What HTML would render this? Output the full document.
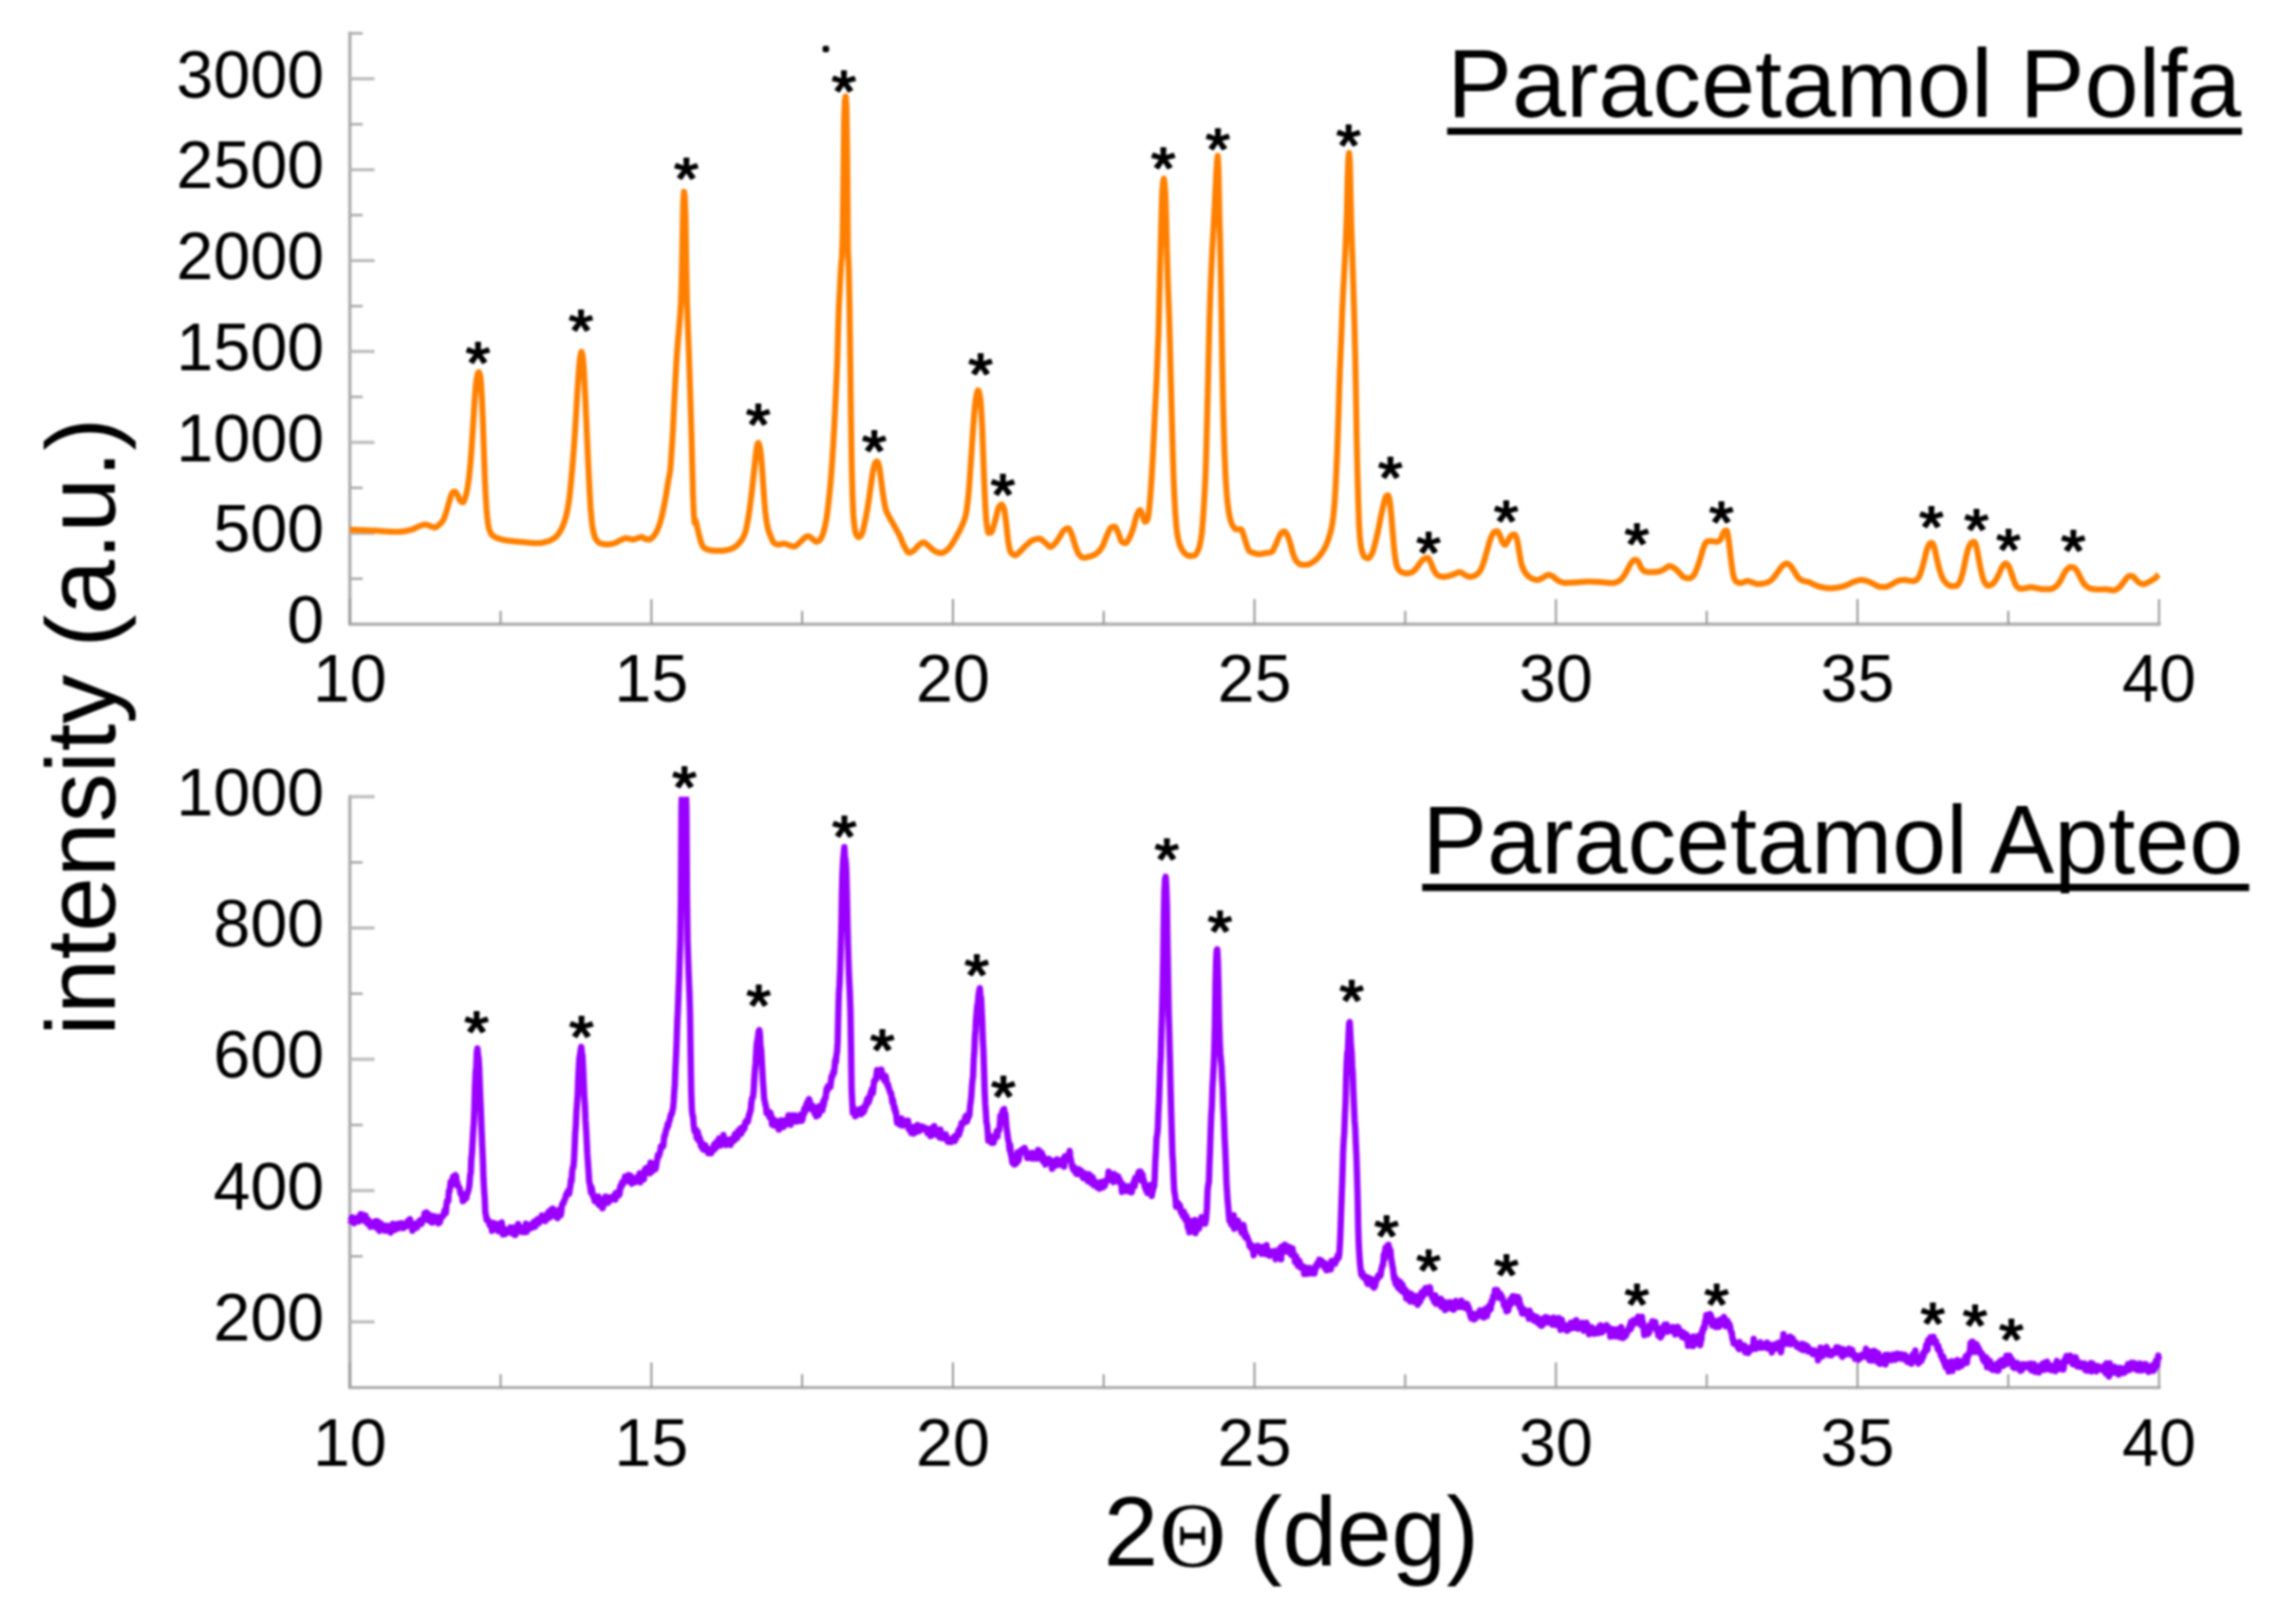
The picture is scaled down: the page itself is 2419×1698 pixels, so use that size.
<!DOCTYPE html>
<html lang="en"><head><meta charset="utf-8"><title>XRD: Paracetamol Polfa / Paracetamol Apteo</title>
<style>html,body{margin:0;padding:0;background:#fff}svg{display:block}</style></head>
<body>
<svg width="2419" height="1698" viewBox="0 0 2419 1698">
<rect width="2419" height="1698" fill="#fff"/>
<defs><filter id="soft" x="0" y="0" width="100%" height="100%" filterUnits="userSpaceOnUse" color-interpolation-filters="sRGB"><feGaussianBlur stdDeviation="0.85"/></filter></defs>
<g filter="url(#soft)">
<rect width="2419" height="1698" fill="#fff"/>
<g stroke="#adadad" stroke-width="3.4" fill="none" stroke-linecap="butt">
<path d="M368.6,33.4 V657.5 H2276.4"/>
<path d="M368.6,561.8 h26" stroke-width="3.2" stroke="#b8b8b8"/>
<path d="M368.6,466.0 h26" stroke-width="3.2" stroke="#b8b8b8"/>
<path d="M368.6,370.2 h26" stroke-width="3.2" stroke="#b8b8b8"/>
<path d="M368.6,274.5 h26" stroke-width="3.2" stroke="#b8b8b8"/>
<path d="M368.6,178.8 h26" stroke-width="3.2" stroke="#b8b8b8"/>
<path d="M368.6,83.0 h26" stroke-width="3.2" stroke="#b8b8b8"/>
<path d="M368.6,609.6 h13.5" stroke-width="2.6" stroke="#a8a8a8"/>
<path d="M368.6,513.9 h13.5" stroke-width="2.6" stroke="#a8a8a8"/>
<path d="M368.6,418.1 h13.5" stroke-width="2.6" stroke="#a8a8a8"/>
<path d="M368.6,322.4 h13.5" stroke-width="2.6" stroke="#a8a8a8"/>
<path d="M368.6,226.6 h13.5" stroke-width="2.6" stroke="#a8a8a8"/>
<path d="M368.6,130.9 h13.5" stroke-width="2.6" stroke="#a8a8a8"/>
<path d="M368.6,35.1 h13.5" stroke-width="2.6" stroke="#a8a8a8"/>
<path d="M368.6,657.5 v-26.5" stroke-width="2.1" stroke="#969696"/>
<path d="M527.4,657.5 v-14" stroke-width="2.1" stroke="#969696"/>
<path d="M686.3,657.5 v-26.5" stroke-width="2.1" stroke="#969696"/>
<path d="M845.1,657.5 v-14" stroke-width="2.1" stroke="#969696"/>
<path d="M1004.0,657.5 v-26.5" stroke-width="2.1" stroke="#969696"/>
<path d="M1162.8,657.5 v-14" stroke-width="2.1" stroke="#969696"/>
<path d="M1321.7,657.5 v-26.5" stroke-width="2.1" stroke="#969696"/>
<path d="M1480.5,657.5 v-14" stroke-width="2.1" stroke="#969696"/>
<path d="M1639.3,657.5 v-26.5" stroke-width="2.1" stroke="#969696"/>
<path d="M1798.2,657.5 v-14" stroke-width="2.1" stroke="#969696"/>
<path d="M1957.0,657.5 v-26.5" stroke-width="2.1" stroke="#969696"/>
<path d="M2115.9,657.5 v-14" stroke-width="2.1" stroke="#969696"/>
<path d="M2274.7,657.5 v-26.5" stroke-width="2.1" stroke="#969696"/>
</g>
<g stroke="#adadad" stroke-width="3.4" fill="none" stroke-linecap="butt">
<path d="M368.6,837.5 V1461.6 H2276.4"/>
<path d="M368.6,1392.4 h26" stroke-width="3.2" stroke="#b8b8b8"/>
<path d="M368.6,1254.1 h26" stroke-width="3.2" stroke="#b8b8b8"/>
<path d="M368.6,1115.8 h26" stroke-width="3.2" stroke="#b8b8b8"/>
<path d="M368.6,977.5 h26" stroke-width="3.2" stroke="#b8b8b8"/>
<path d="M368.6,839.2 h26" stroke-width="3.2" stroke="#b8b8b8"/>
<path d="M368.6,1323.3 h13.5" stroke-width="2.6" stroke="#a8a8a8"/>
<path d="M368.6,1185.0 h13.5" stroke-width="2.6" stroke="#a8a8a8"/>
<path d="M368.6,1046.7 h13.5" stroke-width="2.6" stroke="#a8a8a8"/>
<path d="M368.6,908.4 h13.5" stroke-width="2.6" stroke="#a8a8a8"/>
<path d="M368.6,1461.6 v-26.5" stroke-width="2.1" stroke="#969696"/>
<path d="M527.4,1461.6 v-14" stroke-width="2.1" stroke="#969696"/>
<path d="M686.3,1461.6 v-26.5" stroke-width="2.1" stroke="#969696"/>
<path d="M845.1,1461.6 v-14" stroke-width="2.1" stroke="#969696"/>
<path d="M1004.0,1461.6 v-26.5" stroke-width="2.1" stroke="#969696"/>
<path d="M1162.8,1461.6 v-14" stroke-width="2.1" stroke="#969696"/>
<path d="M1321.7,1461.6 v-26.5" stroke-width="2.1" stroke="#969696"/>
<path d="M1480.5,1461.6 v-14" stroke-width="2.1" stroke="#969696"/>
<path d="M1639.3,1461.6 v-26.5" stroke-width="2.1" stroke="#969696"/>
<path d="M1798.2,1461.6 v-14" stroke-width="2.1" stroke="#969696"/>
<path d="M1957.0,1461.6 v-26.5" stroke-width="2.1" stroke="#969696"/>
<path d="M2115.9,1461.6 v-14" stroke-width="2.1" stroke="#969696"/>
<path d="M2274.7,1461.6 v-26.5" stroke-width="2.1" stroke="#969696"/>
</g>
<path d="M368.6,558.0 369.4,558.0 370.2,558.1 371.0,558.1 371.8,558.1 372.6,558.1 373.4,558.2 374.2,558.2 375.0,558.2 375.8,558.2 376.6,558.3 377.4,558.3 378.2,558.3 379.0,558.4 379.8,558.4 380.6,558.4 381.4,558.4 382.2,558.5 383.0,558.5 383.8,558.5 384.6,558.6 385.4,558.6 386.2,558.6 387.0,558.7 387.8,558.7 388.6,558.7 389.4,558.8 390.2,558.8 391.0,558.8 391.8,558.9 392.6,558.9 393.4,558.9 394.2,559.0 395.0,559.0 395.8,559.0 396.6,559.1 397.4,559.1 398.2,559.2 399.0,559.2 399.8,559.3 400.6,559.3 401.4,559.4 402.2,559.5 403.0,559.5 403.8,559.6 404.6,559.6 405.4,559.7 406.2,559.7 407.0,559.8 407.8,559.8 408.6,559.9 409.4,559.9 410.2,559.9 411.0,560.0 411.8,560.0 412.6,560.1 413.4,560.1 414.2,560.1 415.0,560.1 415.8,560.2 416.6,560.2 417.4,560.2 418.2,560.2 419.0,560.2 419.8,560.2 420.6,560.2 421.4,560.1 422.2,560.0 423.0,560.0 423.8,559.9 424.6,559.8 425.4,559.6 426.2,559.5 427.0,559.4 427.8,559.2 428.6,559.1 429.4,558.9 430.2,558.7 431.0,558.5 431.8,558.3 432.6,558.2 433.4,558.0 434.2,557.8 435.0,557.5 435.8,557.2 436.6,556.8 437.4,556.4 438.2,556.0 439.0,555.6 439.8,555.2 440.6,554.8 441.4,554.4 442.2,554.1 443.0,553.8 443.8,553.5 444.6,553.3 445.4,553.0 446.2,552.8 447.0,552.7 447.8,552.6 448.6,552.6 449.4,552.7 450.2,553.0 451.0,553.3 451.8,553.6 452.6,553.9 453.4,554.2 454.2,554.5 455.0,554.8 455.8,555.1 456.6,555.4 457.4,555.6 458.2,555.6 459.0,555.4 459.8,555.0 460.6,554.4 461.4,553.8 462.2,553.1 463.0,552.5 463.8,551.8 464.6,551.0 465.4,550.1 466.2,549.0 467.0,547.7 467.8,546.0 468.6,543.9 469.4,541.6 470.2,539.1 471.0,536.6 471.8,533.7 472.6,530.6 473.4,527.8 474.2,525.2 475.0,522.6 475.8,520.4 476.6,519.2 477.4,518.5 478.2,518.0 479.0,517.7 479.8,518.1 480.6,519.1 481.4,520.5 482.2,521.9 483.0,523.6 483.8,525.6 484.6,527.2 485.4,528.1 486.2,528.6 487.0,528.9 487.8,529.1 488.6,528.4 489.4,526.5 490.2,524.0 491.0,521.4 491.8,517.9 492.6,513.6 493.4,508.6 494.2,502.5 495.0,495.0 495.8,486.5 496.6,476.4 497.4,464.3 498.2,451.9 499.0,439.1 499.8,425.8 500.6,414.6 501.4,405.7 502.2,398.6 503.0,394.9 503.8,392.5 504.6,392.0 505.4,394.0 506.2,397.7 507.0,407.0 507.8,421.1 508.6,439.6 509.4,462.4 510.2,485.3 511.0,508.1 511.8,524.3 512.6,536.5 513.4,545.1 514.2,551.7 515.0,556.1 515.8,558.7 516.6,560.7 517.4,562.2 518.2,563.2 519.0,564.0 519.8,564.7 520.6,565.2 521.4,565.7 522.2,566.1 523.0,566.4 523.8,566.7 524.6,567.0 525.4,567.3 526.2,567.6 527.0,567.8 527.8,568.0 528.6,568.2 529.4,568.4 530.2,568.6 531.0,568.8 531.8,568.9 532.6,569.1 533.4,569.2 534.2,569.3 535.0,569.5 535.8,569.6 536.6,569.7 537.4,569.8 538.2,569.9 539.0,570.0 539.8,570.0 540.6,570.1 541.4,570.2 542.2,570.3 543.0,570.3 543.8,570.4 544.6,570.5 545.4,570.5 546.2,570.6 547.0,570.7 547.8,570.7 548.6,570.8 549.4,570.9 550.2,570.9 551.0,571.0 551.8,571.1 552.6,571.2 553.4,571.2 554.2,571.3 555.0,571.4 555.8,571.5 556.6,571.6 557.4,571.6 558.2,571.7 559.0,571.8 559.8,571.9 560.6,571.9 561.4,572.0 562.2,572.0 563.0,572.1 563.8,572.1 564.6,572.1 565.4,572.2 566.2,572.2 567.0,572.2 567.8,572.2 568.6,572.1 569.4,572.0 570.2,571.9 571.0,571.8 571.8,571.6 572.6,571.4 573.4,571.2 574.2,571.0 575.0,570.8 575.8,570.6 576.6,570.4 577.4,570.1 578.2,569.9 579.0,569.6 579.8,569.2 580.6,568.8 581.4,568.4 582.2,567.9 583.0,567.4 583.8,566.9 584.6,566.3 585.4,565.6 586.2,564.9 587.0,564.1 587.8,563.1 588.6,562.0 589.4,560.8 590.2,559.5 591.0,558.2 591.8,556.7 592.6,554.9 593.4,553.0 594.2,550.9 595.0,548.5 595.8,545.9 596.6,542.8 597.4,539.2 598.2,535.1 599.0,530.4 599.8,525.1 600.6,518.3 601.4,510.1 602.2,501.2 603.0,492.1 603.8,482.3 604.6,471.8 605.4,460.6 606.2,448.8 607.0,435.6 607.8,421.5 608.6,408.5 609.4,396.5 610.2,385.3 611.0,377.9 611.8,372.9 612.6,370.5 613.4,372.6 614.2,377.7 615.0,386.6 615.8,401.4 616.6,417.3 617.4,435.6 618.2,453.8 619.0,471.9 619.8,489.6 620.6,505.9 621.4,521.7 622.2,535.0 623.0,544.4 623.8,552.1 624.6,557.4 625.4,561.1 626.2,564.1 627.0,566.3 627.8,567.8 628.6,569.0 629.4,570.0 630.2,570.9 631.0,571.6 631.8,572.0 632.6,572.3 633.4,572.5 634.2,572.7 635.0,572.9 635.8,573.1 636.6,573.2 637.4,573.3 638.2,573.4 639.0,573.5 639.8,573.5 640.6,573.5 641.4,573.4 642.2,573.3 643.0,573.2 643.8,573.0 644.6,572.9 645.4,572.7 646.2,572.5 647.0,572.3 647.8,572.1 648.6,571.8 649.4,571.4 650.2,571.0 651.0,570.5 651.8,570.0 652.6,569.6 653.4,569.2 654.2,568.8 655.0,568.5 655.8,568.1 656.6,567.7 657.4,567.4 658.2,567.1 659.0,567.0 659.8,567.0 660.6,567.0 661.4,567.2 662.2,567.3 663.0,567.5 663.8,567.7 664.6,567.9 665.4,568.1 666.2,568.2 667.0,568.3 667.8,568.2 668.6,568.0 669.4,567.7 670.2,567.4 671.0,567.1 671.8,566.7 672.6,566.5 673.4,566.2 674.2,566.0 675.0,565.8 675.8,565.7 676.6,565.7 677.4,566.1 678.2,566.7 679.0,567.3 679.8,567.7 680.6,567.9 681.4,568.0 682.2,568.1 683.0,568.2 683.8,568.3 684.6,568.2 685.4,567.8 686.2,567.1 687.0,566.4 687.8,565.6 688.6,564.8 689.4,563.8 690.2,562.7 691.0,561.4 691.8,560.0 692.6,558.3 693.4,556.4 694.2,554.3 695.0,552.0 695.8,549.4 696.6,546.5 697.4,543.2 698.2,539.7 699.0,536.0 699.8,532.0 700.6,527.7 701.4,523.2 702.2,518.6 703.0,513.5 703.8,508.3 704.6,503.6 705.4,500.1 706.2,495.3 707.0,484.4 707.8,472.8 708.6,460.0 709.4,444.8 710.2,428.0 711.0,412.0 711.8,397.0 712.6,382.6 713.4,370.2 714.2,360.2 715.0,351.3 715.8,341.5 716.6,331.4 717.4,319.2 718.2,296.9 719.0,255.5 719.8,213.1 720.6,202.0 721.4,206.0 722.2,226.2 723.0,279.4 723.8,318.1 724.6,341.5 725.4,361.3 726.2,383.3 727.0,408.8 727.8,433.6 728.6,460.0 729.4,492.2 730.2,523.7 731.0,541.8 731.8,550.5 732.6,547.7 733.4,550.0 734.2,553.7 735.0,556.9 735.8,560.4 736.6,563.9 737.4,566.9 738.2,569.8 739.0,572.4 739.8,574.4 740.6,575.6 741.4,576.6 742.2,577.4 743.0,577.9 743.8,578.3 744.6,578.6 745.4,578.9 746.2,579.1 747.0,579.3 747.8,579.5 748.6,579.7 749.4,579.8 750.2,579.8 751.0,579.9 751.8,580.0 752.6,580.0 753.4,580.1 754.2,580.1 755.0,580.2 755.8,580.2 756.6,580.2 757.4,580.2 758.2,580.2 759.0,580.2 759.8,580.2 760.6,580.2 761.4,580.1 762.2,580.0 763.0,579.9 763.8,579.8 764.6,579.6 765.4,579.5 766.2,579.3 767.0,579.2 767.8,579.0 768.6,578.8 769.4,578.6 770.2,578.3 771.0,577.9 771.8,577.6 772.6,577.2 773.4,576.7 774.2,576.3 775.0,575.7 775.8,575.1 776.6,574.4 777.4,573.6 778.2,572.7 779.0,571.8 779.8,570.8 780.6,569.8 781.4,568.6 782.2,567.4 783.0,565.9 783.8,564.3 784.6,562.4 785.4,560.1 786.2,556.9 787.0,553.0 787.8,548.7 788.6,544.1 789.4,539.1 790.2,533.4 791.0,527.1 791.8,520.7 792.6,513.7 793.4,506.2 794.2,498.6 795.0,491.1 795.8,483.2 796.6,476.3 797.4,471.1 798.2,467.0 799.0,466.6 799.8,468.5 800.6,471.4 801.4,477.0 802.2,484.6 803.0,494.3 803.8,506.4 804.6,517.7 805.4,528.4 806.2,538.0 807.0,544.8 807.8,550.2 808.6,554.6 809.4,557.9 810.2,560.4 811.0,562.6 811.8,564.4 812.6,566.3 813.4,568.2 814.2,570.1 815.0,571.4 815.8,572.1 816.6,572.6 817.4,573.1 818.2,573.5 819.0,573.7 819.8,573.7 820.6,573.6 821.4,573.5 822.2,573.3 823.0,573.1 823.8,572.9 824.6,572.7 825.4,572.6 826.2,572.6 827.0,572.7 827.8,572.9 828.6,573.2 829.4,573.6 830.2,573.9 831.0,574.2 831.8,574.4 832.6,574.7 833.4,575.0 834.2,575.2 835.0,575.4 835.8,575.6 836.6,575.7 837.4,575.6 838.2,575.3 839.0,574.7 839.8,574.0 840.6,573.2 841.4,572.4 842.2,571.6 843.0,571.0 843.8,570.3 844.6,569.5 845.4,568.7 846.2,567.9 847.0,567.1 847.8,566.4 848.6,565.8 849.4,565.3 850.2,565.0 851.0,564.8 851.8,564.8 852.6,565.1 853.4,565.6 854.2,566.2 855.0,566.9 855.8,567.5 856.6,568.1 857.4,568.9 858.2,569.7 859.0,570.3 859.8,570.6 860.6,570.6 861.4,570.3 862.2,569.9 863.0,569.3 863.8,568.6 864.6,567.7 865.4,566.3 866.2,564.6 867.0,562.5 867.8,560.1 868.6,557.1 869.4,553.5 870.2,549.4 871.0,544.7 871.8,538.9 872.6,532.3 873.4,525.3 874.2,517.5 875.0,508.9 875.8,499.4 876.6,488.6 877.4,476.3 878.2,462.9 879.0,448.3 879.8,432.2 880.6,415.1 881.4,397.7 882.2,377.8 883.0,348.2 883.8,323.4 884.6,308.0 885.4,292.3 886.2,279.3 887.0,270.7 887.8,249.4 888.6,193.1 889.4,125.1 890.2,105.5 891.0,101.5 891.8,112.4 892.6,162.0 893.4,264.0 894.2,282.0 895.0,321.5 895.8,379.7 896.6,443.2 897.4,493.1 898.2,523.1 899.0,541.5 899.8,551.2 900.6,557.4 901.4,561.3 902.2,563.1 903.0,564.5 903.8,565.5 904.6,565.8 905.4,565.6 906.2,565.0 907.0,564.0 907.8,562.8 908.6,561.1 909.4,558.2 910.2,554.6 911.0,550.9 911.8,547.2 912.6,543.2 913.4,538.8 914.2,534.2 915.0,529.2 915.8,523.7 916.6,517.9 917.4,512.3 918.2,506.5 919.0,500.8 919.8,496.1 920.6,492.5 921.4,489.4 922.2,487.4 923.0,486.5 923.8,486.0 924.6,486.4 925.4,488.3 926.2,491.0 927.0,495.4 927.8,501.6 928.6,507.7 929.4,513.8 930.2,519.8 931.0,524.9 931.8,529.6 932.6,533.9 933.4,537.2 934.2,539.4 935.0,541.1 935.8,542.6 936.6,543.9 937.4,545.4 938.2,546.9 939.0,548.4 939.8,549.8 940.6,551.2 941.4,552.6 942.2,554.0 943.0,555.5 943.8,556.8 944.6,558.2 945.4,559.6 946.2,561.1 947.0,562.5 947.8,564.1 948.6,565.9 949.4,567.8 950.2,569.8 951.0,571.8 951.8,573.7 952.6,575.3 953.4,576.7 954.2,578.2 955.0,579.6 955.8,580.8 956.6,581.7 957.4,582.2 958.2,582.1 959.0,581.9 959.8,581.6 960.6,581.2 961.4,580.7 962.2,580.3 963.0,579.7 963.8,578.9 964.6,578.0 965.4,577.0 966.2,576.1 967.0,575.3 967.8,574.7 968.6,573.9 969.4,573.2 970.2,572.5 971.0,571.9 971.8,571.5 972.6,571.3 973.4,571.4 974.2,571.7 975.0,572.2 975.8,572.8 976.6,573.5 977.4,574.3 978.2,574.9 979.0,575.6 979.8,576.3 980.6,577.0 981.4,577.8 982.2,578.5 983.0,579.2 983.8,579.8 984.6,580.3 985.4,580.7 986.2,581.1 987.0,581.5 987.8,581.8 988.6,582.1 989.4,582.3 990.2,582.5 991.0,582.6 991.8,582.6 992.6,582.4 993.4,582.2 994.2,581.8 995.0,581.3 995.8,580.8 996.6,580.3 997.4,579.7 998.2,579.1 999.0,578.3 999.8,577.4 1000.6,576.4 1001.4,575.3 1002.2,574.1 1003.0,572.9 1003.8,571.7 1004.6,570.4 1005.4,569.1 1006.2,567.8 1007.0,566.4 1007.8,564.9 1008.6,563.5 1009.4,562.0 1010.2,560.5 1011.0,559.0 1011.8,557.4 1012.6,555.8 1013.4,554.0 1014.2,552.2 1015.0,550.2 1015.8,548.1 1016.6,545.7 1017.4,542.7 1018.2,538.6 1019.0,533.0 1019.8,526.4 1020.6,518.7 1021.4,508.8 1022.2,497.3 1023.0,485.8 1023.8,473.6 1024.6,461.0 1025.4,449.4 1026.2,439.1 1027.0,429.5 1027.8,422.3 1028.6,417.6 1029.4,413.6 1030.2,411.3 1031.0,411.5 1031.8,414.2 1032.6,418.5 1033.4,425.9 1034.2,438.5 1035.0,455.2 1035.8,477.3 1036.6,498.9 1037.4,519.2 1038.2,535.0 1039.0,547.4 1039.8,554.1 1040.6,559.1 1041.4,561.3 1042.2,561.2 1043.0,561.1 1043.8,561.0 1044.6,560.6 1045.4,558.9 1046.2,556.5 1047.0,553.9 1047.8,551.1 1048.6,548.0 1049.4,544.9 1050.2,541.7 1051.0,538.3 1051.8,535.4 1052.6,533.8 1053.4,532.7 1054.2,531.9 1055.0,531.4 1055.8,531.8 1056.6,533.0 1057.4,534.8 1058.2,537.5 1059.0,542.6 1059.8,548.8 1060.6,555.7 1061.4,563.7 1062.2,570.0 1063.0,574.8 1063.8,578.8 1064.6,581.3 1065.4,582.3 1066.2,583.1 1067.0,583.8 1067.8,584.3 1068.6,584.6 1069.4,584.8 1070.2,584.7 1071.0,584.4 1071.8,583.8 1072.6,583.1 1073.4,582.3 1074.2,581.4 1075.0,580.6 1075.8,579.9 1076.6,579.1 1077.4,578.3 1078.2,577.4 1079.0,576.6 1079.8,575.7 1080.6,574.9 1081.4,574.2 1082.2,573.5 1083.0,572.8 1083.8,572.0 1084.6,571.3 1085.4,570.6 1086.2,570.0 1087.0,569.5 1087.8,569.1 1088.6,568.8 1089.4,568.5 1090.2,568.2 1091.0,568.0 1091.8,567.8 1092.6,567.6 1093.4,567.5 1094.2,567.4 1095.0,567.4 1095.8,567.6 1096.6,567.9 1097.4,568.4 1098.2,569.1 1099.0,569.8 1099.8,570.5 1100.6,571.2 1101.4,571.8 1102.2,572.5 1103.0,573.3 1103.8,574.1 1104.6,574.9 1105.4,575.6 1106.2,576.0 1107.0,576.1 1107.8,575.8 1108.6,575.3 1109.4,574.6 1110.2,573.8 1111.0,573.0 1111.8,572.1 1112.6,571.2 1113.4,570.1 1114.2,568.9 1115.0,567.6 1115.8,566.4 1116.6,565.1 1117.4,563.9 1118.2,562.5 1119.0,561.1 1119.8,559.9 1120.6,558.9 1121.4,558.3 1122.2,557.7 1123.0,557.2 1123.8,556.8 1124.6,556.6 1125.4,556.5 1126.2,557.0 1127.0,558.2 1127.8,559.8 1128.6,561.7 1129.4,563.5 1130.2,565.8 1131.0,568.6 1131.8,571.5 1132.6,574.1 1133.4,576.4 1134.2,578.6 1135.0,580.7 1135.8,582.5 1136.6,583.7 1137.4,584.6 1138.2,585.4 1139.0,586.2 1139.8,586.8 1140.6,587.2 1141.4,587.4 1142.2,587.4 1143.0,587.3 1143.8,587.2 1144.6,587.1 1145.4,586.9 1146.2,586.7 1147.0,586.5 1147.8,586.3 1148.6,586.1 1149.4,585.8 1150.2,585.6 1151.0,585.3 1151.8,584.9 1152.6,584.5 1153.4,584.1 1154.2,583.7 1155.0,583.1 1155.8,582.6 1156.6,581.9 1157.4,581.2 1158.2,580.3 1159.0,579.3 1159.8,578.2 1160.6,577.0 1161.4,575.8 1162.2,574.2 1163.0,572.3 1163.8,570.2 1164.6,568.0 1165.4,565.9 1166.2,564.0 1167.0,562.3 1167.8,560.5 1168.6,558.8 1169.4,557.2 1170.2,556.0 1171.0,555.4 1171.8,555.1 1172.6,554.9 1173.4,554.8 1174.2,554.7 1175.0,555.1 1175.8,556.3 1176.6,557.9 1177.4,559.6 1178.2,561.3 1179.0,563.5 1179.8,565.9 1180.6,568.3 1181.4,570.1 1182.2,570.8 1183.0,571.3 1183.8,571.7 1184.6,572.0 1185.4,572.1 1186.2,572.1 1187.0,571.4 1187.8,570.3 1188.6,569.0 1189.4,567.6 1190.2,566.1 1191.0,564.3 1191.8,562.4 1192.6,560.2 1193.4,557.9 1194.2,555.5 1195.0,552.5 1195.8,549.1 1196.6,546.0 1197.4,543.3 1198.2,541.5 1199.0,539.8 1199.8,538.3 1200.6,537.5 1201.4,537.5 1202.2,538.7 1203.0,540.7 1203.8,542.6 1204.6,545.3 1205.4,548.0 1206.2,549.5 1207.0,549.4 1207.8,548.9 1208.6,548.1 1209.4,546.1 1210.2,540.9 1211.0,533.4 1211.8,524.2 1212.6,514.0 1213.4,502.0 1214.2,487.5 1215.0,472.0 1215.8,456.5 1216.6,439.2 1217.4,423.5 1218.2,408.4 1219.0,389.9 1219.8,369.9 1220.6,350.0 1221.4,317.9 1222.2,283.8 1223.0,253.6 1223.8,223.0 1224.6,201.0 1225.4,191.3 1226.2,188.1 1227.0,193.2 1227.8,204.0 1228.6,231.2 1229.4,262.0 1230.2,291.6 1231.0,313.9 1231.8,334.4 1232.6,362.3 1233.4,395.3 1234.2,425.0 1235.0,455.2 1235.8,484.2 1236.6,507.7 1237.4,525.0 1238.2,539.3 1239.0,549.8 1239.8,558.1 1240.6,564.0 1241.4,567.9 1242.2,571.1 1243.0,573.7 1243.8,575.8 1244.6,577.5 1245.4,579.1 1246.2,580.4 1247.0,581.5 1247.8,582.4 1248.6,583.2 1249.4,583.8 1250.2,584.4 1251.0,584.9 1251.8,585.3 1252.6,585.5 1253.4,585.5 1254.2,585.5 1255.0,585.5 1255.8,585.4 1256.6,585.4 1257.4,585.3 1258.2,585.2 1259.0,584.8 1259.8,584.1 1260.6,582.9 1261.4,581.5 1262.2,579.9 1263.0,578.0 1263.8,575.3 1264.6,571.8 1265.4,567.3 1266.2,561.6 1267.0,552.7 1267.8,541.8 1268.6,529.7 1269.4,515.4 1270.2,497.2 1271.0,471.1 1271.8,440.3 1272.6,407.6 1273.4,373.4 1274.2,338.8 1275.0,313.9 1275.8,293.9 1276.6,276.3 1277.4,259.9 1278.2,245.3 1279.0,231.1 1279.8,216.0 1280.6,198.9 1281.4,183.2 1282.2,170.3 1283.0,164.2 1283.8,177.5 1284.6,220.0 1285.4,252.8 1286.2,291.1 1287.0,338.1 1287.8,387.3 1288.6,424.8 1289.4,454.5 1290.2,479.3 1291.0,497.6 1291.8,511.4 1292.6,522.1 1293.4,530.1 1294.2,536.6 1295.0,541.7 1295.8,545.4 1296.6,548.4 1297.4,550.8 1298.2,552.8 1299.0,554.2 1299.8,555.3 1300.6,556.2 1301.4,557.0 1302.2,557.5 1303.0,557.6 1303.8,557.6 1304.6,557.6 1305.4,557.6 1306.2,557.6 1307.0,557.6 1307.8,557.7 1308.6,558.9 1309.4,561.1 1310.2,563.6 1311.0,566.0 1311.8,568.8 1312.6,571.6 1313.4,574.0 1314.2,576.3 1315.0,578.4 1315.8,579.9 1316.6,580.7 1317.4,581.2 1318.2,581.6 1319.0,581.9 1319.8,582.2 1320.6,582.4 1321.4,582.6 1322.2,582.9 1323.0,583.1 1323.8,583.3 1324.6,583.5 1325.4,583.6 1326.2,583.7 1327.0,583.7 1327.8,583.6 1328.6,583.5 1329.4,583.4 1330.2,583.2 1331.0,583.0 1331.8,582.9 1332.6,582.7 1333.4,582.6 1334.2,582.5 1335.0,582.4 1335.8,582.3 1336.6,582.2 1337.4,582.0 1338.2,581.9 1339.0,581.7 1339.8,581.4 1340.6,580.7 1341.4,579.4 1342.2,577.8 1343.0,576.0 1343.8,574.4 1344.6,572.6 1345.4,570.6 1346.2,568.5 1347.0,566.7 1347.8,565.1 1348.6,563.5 1349.4,562.1 1350.2,561.1 1351.0,560.5 1351.8,560.1 1352.6,559.8 1353.4,559.8 1354.2,560.4 1355.0,561.5 1355.8,562.8 1356.6,564.3 1357.4,566.3 1358.2,568.6 1359.0,571.1 1359.8,573.8 1360.6,576.9 1361.4,580.2 1362.2,582.9 1363.0,585.1 1363.8,587.1 1364.6,588.8 1365.4,590.3 1366.2,591.4 1367.0,592.2 1367.8,593.0 1368.6,593.7 1369.4,594.2 1370.2,594.6 1371.0,594.8 1371.8,594.8 1372.6,594.8 1373.4,594.8 1374.2,594.8 1375.0,594.8 1375.8,594.8 1376.6,594.8 1377.4,594.8 1378.2,594.7 1379.0,594.4 1379.8,594.1 1380.6,593.7 1381.4,593.2 1382.2,592.7 1383.0,592.2 1383.8,591.6 1384.6,591.1 1385.4,590.5 1386.2,589.8 1387.0,589.0 1387.8,588.2 1388.6,587.4 1389.4,586.4 1390.2,585.5 1391.0,584.5 1391.8,583.5 1392.6,582.3 1393.4,581.1 1394.2,579.8 1395.0,578.4 1395.8,576.9 1396.6,575.3 1397.4,573.6 1398.2,571.7 1399.0,569.6 1399.8,567.3 1400.6,564.8 1401.4,562.1 1402.2,559.1 1403.0,555.5 1403.8,551.1 1404.6,545.1 1405.4,537.4 1406.2,528.0 1407.0,515.0 1407.8,499.2 1408.6,481.5 1409.4,460.9 1410.2,437.0 1411.0,409.5 1411.8,386.6 1412.6,368.4 1413.4,349.4 1414.2,326.9 1415.0,309.8 1415.8,295.4 1416.6,280.3 1417.4,264.6 1418.2,246.0 1419.0,223.3 1419.8,187.2 1420.6,167.5 1421.4,161.1 1422.2,170.6 1423.0,208.0 1423.8,240.8 1424.6,264.2 1425.4,288.5 1426.2,313.5 1427.0,340.5 1427.8,373.9 1428.6,417.0 1429.4,464.6 1430.2,499.5 1431.0,527.9 1431.8,552.0 1432.6,564.5 1433.4,572.6 1434.2,577.7 1435.0,580.8 1435.8,583.3 1436.6,585.2 1437.4,586.4 1438.2,586.9 1439.0,587.4 1439.8,587.8 1440.6,588.0 1441.4,588.1 1442.2,587.7 1443.0,587.0 1443.8,586.0 1444.6,584.7 1445.4,583.4 1446.2,581.5 1447.0,578.9 1447.8,576.0 1448.6,572.9 1449.4,569.9 1450.2,566.5 1451.0,563.0 1451.8,559.3 1452.6,555.6 1453.4,551.6 1454.2,547.4 1455.0,543.4 1455.8,539.6 1456.6,536.0 1457.4,532.6 1458.2,529.6 1459.0,526.6 1459.8,524.0 1460.6,522.6 1461.4,521.9 1462.2,521.6 1463.0,522.8 1463.8,525.4 1464.6,530.3 1465.4,538.2 1466.2,547.0 1467.0,557.3 1467.8,566.9 1468.6,575.9 1469.4,583.8 1470.2,589.2 1471.0,593.5 1471.8,596.7 1472.6,598.6 1473.4,599.8 1474.2,600.8 1475.0,601.5 1475.8,602.1 1476.6,602.6 1477.4,602.9 1478.2,603.2 1479.0,603.4 1479.8,603.6 1480.6,603.8 1481.4,603.9 1482.2,604.0 1483.0,603.9 1483.8,603.8 1484.6,603.7 1485.4,603.4 1486.2,603.2 1487.0,602.9 1487.8,602.6 1488.6,602.2 1489.4,601.5 1490.2,600.8 1491.0,599.9 1491.8,599.0 1492.6,598.0 1493.4,597.1 1494.2,596.0 1495.0,594.8 1495.8,593.5 1496.6,592.4 1497.4,591.4 1498.2,590.6 1499.0,589.8 1499.8,589.1 1500.6,588.5 1501.4,588.2 1502.2,588.0 1503.0,587.8 1503.8,587.6 1504.6,587.7 1505.4,588.7 1506.2,590.2 1507.0,591.9 1507.8,593.5 1508.6,595.6 1509.4,597.8 1510.2,599.8 1511.0,601.3 1511.8,602.6 1512.6,603.8 1513.4,604.8 1514.2,605.5 1515.0,606.0 1515.8,606.4 1516.6,606.8 1517.4,607.1 1518.2,607.3 1519.0,607.5 1519.8,607.6 1520.6,607.7 1521.4,607.6 1522.2,607.5 1523.0,607.4 1523.8,607.3 1524.6,607.1 1525.4,606.9 1526.2,606.7 1527.0,606.5 1527.8,606.3 1528.6,606.1 1529.4,605.8 1530.2,605.5 1531.0,605.2 1531.8,604.8 1532.6,604.5 1533.4,604.2 1534.2,603.9 1535.0,603.5 1535.8,603.1 1536.6,602.8 1537.4,602.7 1538.2,602.7 1539.0,602.9 1539.8,603.3 1540.6,603.8 1541.4,604.4 1542.2,604.9 1543.0,605.4 1543.8,605.8 1544.6,606.2 1545.4,606.6 1546.2,607.0 1547.0,607.3 1547.8,607.6 1548.6,607.7 1549.4,607.6 1550.2,607.5 1551.0,607.3 1551.8,607.0 1552.6,606.8 1553.4,606.4 1554.2,606.1 1555.0,605.7 1555.8,605.1 1556.6,604.5 1557.4,603.7 1558.2,602.9 1559.0,601.9 1559.8,600.7 1560.6,599.1 1561.4,597.1 1562.2,595.0 1563.0,592.7 1563.8,590.3 1564.6,587.6 1565.4,584.7 1566.2,581.7 1567.0,578.8 1567.8,576.1 1568.6,573.2 1569.4,570.4 1570.2,568.0 1571.0,566.0 1571.8,564.2 1572.6,562.6 1573.4,561.3 1574.2,560.5 1575.0,560.1 1575.8,559.8 1576.6,559.6 1577.4,559.5 1578.2,560.1 1579.0,561.5 1579.8,563.2 1580.6,564.9 1581.4,567.1 1582.2,569.5 1583.0,571.2 1583.8,572.3 1584.6,573.3 1585.4,573.9 1586.2,573.7 1587.0,572.6 1587.8,571.2 1588.6,569.7 1589.4,568.4 1590.2,566.9 1591.0,565.5 1591.8,564.4 1592.6,563.9 1593.4,563.5 1594.2,563.2 1595.0,563.0 1595.8,563.1 1596.6,564.0 1597.4,565.7 1598.2,567.7 1599.0,571.3 1599.8,576.3 1600.6,581.1 1601.4,585.8 1602.2,590.6 1603.0,594.2 1603.8,596.7 1604.6,598.8 1605.4,600.6 1606.2,602.1 1607.0,603.3 1607.8,604.3 1608.6,605.3 1609.4,606.1 1610.2,606.9 1611.0,607.5 1611.8,608.1 1612.6,608.6 1613.4,609.0 1614.2,609.4 1615.0,609.8 1615.8,610.1 1616.6,610.4 1617.4,610.6 1618.2,610.8 1619.0,610.9 1619.8,610.9 1620.6,610.8 1621.4,610.5 1622.2,610.2 1623.0,609.8 1623.8,609.4 1624.6,609.0 1625.4,608.6 1626.2,608.2 1627.0,607.7 1627.8,607.2 1628.6,606.6 1629.4,606.1 1630.2,605.7 1631.0,605.5 1631.8,605.5 1632.6,605.6 1633.4,605.9 1634.2,606.2 1635.0,606.6 1635.8,607.0 1636.6,607.5 1637.4,608.2 1638.2,608.9 1639.0,609.7 1639.8,610.4 1640.6,611.0 1641.4,611.5 1642.2,611.8 1643.0,612.2 1643.8,612.6 1644.6,613.0 1645.4,613.3 1646.2,613.5 1647.0,613.8 1647.8,613.9 1648.6,614.0 1649.4,614.0 1650.2,614.0 1651.0,613.9 1651.8,613.9 1652.6,613.9 1653.4,613.9 1654.2,613.8 1655.0,613.8 1655.8,613.7 1656.6,613.7 1657.4,613.7 1658.2,613.6 1659.0,613.6 1659.8,613.5 1660.6,613.5 1661.4,613.4 1662.2,613.4 1663.0,613.3 1663.8,613.2 1664.6,613.2 1665.4,613.1 1666.2,613.0 1667.0,613.0 1667.8,612.9 1668.6,612.8 1669.4,612.8 1670.2,612.7 1671.0,612.7 1671.8,612.7 1672.6,612.7 1673.4,612.7 1674.2,612.7 1675.0,612.7 1675.8,612.7 1676.6,612.7 1677.4,612.7 1678.2,612.8 1679.0,612.8 1679.8,612.8 1680.6,612.9 1681.4,612.9 1682.2,612.9 1683.0,613.0 1683.8,613.0 1684.6,613.0 1685.4,613.1 1686.2,613.1 1687.0,613.2 1687.8,613.2 1688.6,613.3 1689.4,613.4 1690.2,613.5 1691.0,613.6 1691.8,613.7 1692.6,613.7 1693.4,613.8 1694.2,613.9 1695.0,614.0 1695.8,614.1 1696.6,614.1 1697.4,614.2 1698.2,614.2 1699.0,614.2 1699.8,614.1 1700.6,614.0 1701.4,613.8 1702.2,613.5 1703.0,613.2 1703.8,612.9 1704.6,612.5 1705.4,612.1 1706.2,611.6 1707.0,611.0 1707.8,610.3 1708.6,609.4 1709.4,608.5 1710.2,607.5 1711.0,606.4 1711.8,605.2 1712.6,603.9 1713.4,602.4 1714.2,600.9 1715.0,599.4 1715.8,597.9 1716.6,596.4 1717.4,594.8 1718.2,593.4 1719.0,592.4 1719.8,591.5 1720.6,590.6 1721.4,589.9 1722.2,589.6 1723.0,589.6 1723.8,589.9 1724.6,590.3 1725.4,590.8 1726.2,591.8 1727.0,593.5 1727.8,595.5 1728.6,597.2 1729.4,598.5 1730.2,599.5 1731.0,600.5 1731.8,601.3 1732.6,601.8 1733.4,602.0 1734.2,602.2 1735.0,602.3 1735.8,602.5 1736.6,602.6 1737.4,602.6 1738.2,602.6 1739.0,602.6 1739.8,602.6 1740.6,602.6 1741.4,602.6 1742.2,602.5 1743.0,602.5 1743.8,602.5 1744.6,602.4 1745.4,602.3 1746.2,602.3 1747.0,602.2 1747.8,602.1 1748.6,601.8 1749.4,601.5 1750.2,601.2 1751.0,600.8 1751.8,600.4 1752.6,600.0 1753.4,599.6 1754.2,599.1 1755.0,598.5 1755.8,597.9 1756.6,597.3 1757.4,596.7 1758.2,596.4 1759.0,596.3 1759.8,596.4 1760.6,596.7 1761.4,597.0 1762.2,597.4 1763.0,597.8 1763.8,598.2 1764.6,598.8 1765.4,599.5 1766.2,600.3 1767.0,601.1 1767.8,601.9 1768.6,602.6 1769.4,603.4 1770.2,604.3 1771.0,605.2 1771.8,606.1 1772.6,606.9 1773.4,607.6 1774.2,608.1 1775.0,608.4 1775.8,608.6 1776.6,608.8 1777.4,608.9 1778.2,609.1 1779.0,609.1 1779.8,609.2 1780.6,609.1 1781.4,608.7 1782.2,608.2 1783.0,607.5 1783.8,606.6 1784.6,605.8 1785.4,604.5 1786.2,602.8 1787.0,600.9 1787.8,598.9 1788.6,596.8 1789.4,594.6 1790.2,592.1 1791.0,589.6 1791.8,587.0 1792.6,584.2 1793.4,581.3 1794.2,578.7 1795.0,576.5 1795.8,574.4 1796.6,572.5 1797.4,571.1 1798.2,570.6 1799.0,570.4 1799.8,570.2 1800.6,570.1 1801.4,570.0 1802.2,570.0 1803.0,570.0 1803.8,570.1 1804.6,570.2 1805.4,570.3 1806.2,570.4 1807.0,570.5 1807.8,570.6 1808.6,570.6 1809.4,570.6 1810.2,570.3 1811.0,569.8 1811.8,569.2 1812.6,568.5 1813.4,567.1 1814.2,564.9 1815.0,563.0 1815.8,561.2 1816.6,559.7 1817.4,559.1 1818.2,558.8 1819.0,558.7 1819.8,560.1 1820.6,564.5 1821.4,569.7 1822.2,576.6 1823.0,583.4 1823.8,590.1 1824.6,596.1 1825.4,601.7 1826.2,606.3 1827.0,608.8 1827.8,610.6 1828.6,611.9 1829.4,612.7 1830.2,613.1 1831.0,613.5 1831.8,613.8 1832.6,614.1 1833.4,614.2 1834.2,614.2 1835.0,614.0 1835.8,613.8 1836.6,613.5 1837.4,613.2 1838.2,612.8 1839.0,612.5 1839.8,612.3 1840.6,612.1 1841.4,612.0 1842.2,612.1 1843.0,612.3 1843.8,612.6 1844.6,612.9 1845.4,613.2 1846.2,613.5 1847.0,613.8 1847.8,614.1 1848.6,614.4 1849.4,614.7 1850.2,614.9 1851.0,615.1 1851.8,615.3 1852.6,615.3 1853.4,615.2 1854.2,615.2 1855.0,615.1 1855.8,615.0 1856.6,614.8 1857.4,614.7 1858.2,614.5 1859.0,614.4 1859.8,614.2 1860.6,614.0 1861.4,613.7 1862.2,613.4 1863.0,613.1 1863.8,612.7 1864.6,612.2 1865.4,611.7 1866.2,611.0 1867.0,610.2 1867.8,609.3 1868.6,608.4 1869.4,607.5 1870.2,606.5 1871.0,605.4 1871.8,604.3 1872.6,603.2 1873.4,602.1 1874.2,601.0 1875.0,599.8 1875.8,598.6 1876.6,597.6 1877.4,596.6 1878.2,595.9 1879.0,595.2 1879.8,594.6 1880.6,594.1 1881.4,593.7 1882.2,593.5 1883.0,593.6 1883.8,594.0 1884.6,594.5 1885.4,595.2 1886.2,595.8 1887.0,596.7 1887.8,597.8 1888.6,599.0 1889.4,600.3 1890.2,601.5 1891.0,602.7 1891.8,604.0 1892.6,605.4 1893.4,606.7 1894.2,607.9 1895.0,608.8 1895.8,609.5 1896.6,610.1 1897.4,610.7 1898.2,611.2 1899.0,611.6 1899.8,611.9 1900.6,612.1 1901.4,612.3 1902.2,612.5 1903.0,612.6 1903.8,612.7 1904.6,612.9 1905.4,613.0 1906.2,613.3 1907.0,613.6 1907.8,614.0 1908.6,614.5 1909.4,614.9 1910.2,615.3 1911.0,615.7 1911.8,616.0 1912.6,616.4 1913.4,616.7 1914.2,617.0 1915.0,617.3 1915.8,617.6 1916.6,617.9 1917.4,618.1 1918.2,618.2 1919.0,618.4 1919.8,618.6 1920.6,618.7 1921.4,618.9 1922.2,619.0 1923.0,619.2 1923.8,619.3 1924.6,619.4 1925.4,619.5 1926.2,619.5 1927.0,619.6 1927.8,619.6 1928.6,619.6 1929.4,619.6 1930.2,619.6 1931.0,619.5 1931.8,619.5 1932.6,619.4 1933.4,619.3 1934.2,619.2 1935.0,619.1 1935.8,619.0 1936.6,618.8 1937.4,618.7 1938.2,618.5 1939.0,618.4 1939.8,618.2 1940.6,618.1 1941.4,617.8 1942.2,617.6 1943.0,617.3 1943.8,617.0 1944.6,616.7 1945.4,616.4 1946.2,616.0 1947.0,615.7 1947.8,615.4 1948.6,615.0 1949.4,614.6 1950.2,614.2 1951.0,613.7 1951.8,613.3 1952.6,613.0 1953.4,612.7 1954.2,612.5 1955.0,612.2 1955.8,611.9 1956.6,611.7 1957.4,611.5 1958.2,611.3 1959.0,611.1 1959.8,611.0 1960.6,610.9 1961.4,610.9 1962.2,611.0 1963.0,611.1 1963.8,611.2 1964.6,611.4 1965.4,611.6 1966.2,611.8 1967.0,612.0 1967.8,612.3 1968.6,612.5 1969.4,612.9 1970.2,613.2 1971.0,613.6 1971.8,614.1 1972.6,614.5 1973.4,614.9 1974.2,615.3 1975.0,615.7 1975.8,616.1 1976.6,616.5 1977.4,617.0 1978.2,617.4 1979.0,617.7 1979.8,618.0 1980.6,618.1 1981.4,618.2 1982.2,618.2 1983.0,618.2 1983.8,618.3 1984.6,618.3 1985.4,618.3 1986.2,618.3 1987.0,618.3 1987.8,618.1 1988.6,617.8 1989.4,617.4 1990.2,617.1 1991.0,616.7 1991.8,616.3 1992.6,615.9 1993.4,615.4 1994.2,614.9 1995.0,614.3 1995.8,613.8 1996.6,613.3 1997.4,612.9 1998.2,612.6 1999.0,612.2 1999.8,611.8 2000.6,611.5 2001.4,611.4 2002.2,611.3 2003.0,611.2 2003.8,611.1 2004.6,611.0 2005.4,611.0 2006.2,610.9 2007.0,610.9 2007.8,611.0 2008.6,611.1 2009.4,611.3 2010.2,611.4 2011.0,611.6 2011.8,611.7 2012.6,611.8 2013.4,611.9 2014.2,611.9 2015.0,612.0 2015.8,612.0 2016.6,612.0 2017.4,611.9 2018.2,611.5 2019.0,610.9 2019.8,610.1 2020.6,609.2 2021.4,608.3 2022.2,606.7 2023.0,604.8 2023.8,602.6 2024.6,600.2 2025.4,597.5 2026.2,594.5 2027.0,591.3 2027.8,588.3 2028.6,584.9 2029.4,581.6 2030.2,578.8 2031.0,576.7 2031.8,574.7 2032.6,573.3 2033.4,572.5 2034.2,572.0 2035.0,571.7 2035.8,572.1 2036.6,573.4 2037.4,575.1 2038.2,577.7 2039.0,581.3 2039.8,585.1 2040.6,588.6 2041.4,592.1 2042.2,595.5 2043.0,598.5 2043.8,601.3 2044.6,603.8 2045.4,606.1 2046.2,607.9 2047.0,609.5 2047.8,610.9 2048.6,612.1 2049.4,613.1 2050.2,613.9 2051.0,614.7 2051.8,615.4 2052.6,616.0 2053.4,616.6 2054.2,617.0 2055.0,617.3 2055.8,617.5 2056.6,617.4 2057.4,617.4 2058.2,617.4 2059.0,617.3 2059.8,617.2 2060.6,617.1 2061.4,617.0 2062.2,616.5 2063.0,615.6 2063.8,614.4 2064.6,613.1 2065.4,611.4 2066.2,609.1 2067.0,606.4 2067.8,603.5 2068.6,600.2 2069.4,596.4 2070.2,592.3 2071.0,588.6 2071.8,585.1 2072.6,581.7 2073.4,578.8 2074.2,576.6 2075.0,574.7 2075.8,573.2 2076.6,572.1 2077.4,571.5 2078.2,571.1 2079.0,570.8 2079.8,570.6 2080.6,571.4 2081.4,573.3 2082.2,575.6 2083.0,579.1 2083.8,583.5 2084.6,587.9 2085.4,592.1 2086.2,596.3 2087.0,600.2 2087.8,603.6 2088.6,606.8 2089.4,609.7 2090.2,612.0 2091.0,613.5 2091.8,614.8 2092.6,615.8 2093.4,616.6 2094.2,617.0 2095.0,617.0 2095.8,616.8 2096.6,616.5 2097.4,616.2 2098.2,615.8 2099.0,615.3 2099.8,614.6 2100.6,613.7 2101.4,612.7 2102.2,611.6 2103.0,610.5 2103.8,609.1 2104.6,607.5 2105.4,605.8 2106.2,604.2 2107.0,602.5 2107.8,600.7 2108.6,598.8 2109.4,597.2 2110.2,596.0 2111.0,595.0 2111.8,594.2 2112.6,593.6 2113.4,593.5 2114.2,594.0 2115.0,594.8 2115.8,595.7 2116.6,597.1 2117.4,599.0 2118.2,601.2 2119.0,603.3 2119.8,605.8 2120.6,608.4 2121.4,610.7 2122.2,612.7 2123.0,614.6 2123.8,616.3 2124.6,617.6 2125.4,618.3 2126.2,619.0 2127.0,619.5 2127.8,619.9 2128.6,620.1 2129.4,620.1 2130.2,620.0 2131.0,620.0 2131.8,619.9 2132.6,619.8 2133.4,619.7 2134.2,619.6 2135.0,619.5 2135.8,619.3 2136.6,619.1 2137.4,618.9 2138.2,618.7 2139.0,618.6 2139.8,618.5 2140.6,618.6 2141.4,618.7 2142.2,618.8 2143.0,619.0 2143.8,619.1 2144.6,619.3 2145.4,619.5 2146.2,619.6 2147.0,619.8 2147.8,619.9 2148.6,620.1 2149.4,620.3 2150.2,620.4 2151.0,620.6 2151.8,620.7 2152.6,620.7 2153.4,620.7 2154.2,620.7 2155.0,620.7 2155.8,620.7 2156.6,620.7 2157.4,620.6 2158.2,620.6 2159.0,620.6 2159.8,620.5 2160.6,620.5 2161.4,620.3 2162.2,620.1 2163.0,619.7 2163.8,619.3 2164.6,618.7 2165.4,618.2 2166.2,617.6 2167.0,616.9 2167.8,616.0 2168.6,615.0 2169.4,613.9 2170.2,612.7 2171.0,611.3 2171.8,609.7 2172.6,608.0 2173.4,606.4 2174.2,604.9 2175.0,603.6 2175.8,602.3 2176.6,601.0 2177.4,600.0 2178.2,599.3 2179.0,598.5 2179.8,597.9 2180.6,597.5 2181.4,597.4 2182.2,597.5 2183.0,597.5 2183.8,597.6 2184.6,597.8 2185.4,598.0 2186.2,598.6 2187.0,599.6 2187.8,600.8 2188.6,602.0 2189.4,603.3 2190.2,604.9 2191.0,606.6 2191.8,608.2 2192.6,609.7 2193.4,611.2 2194.2,612.6 2195.0,614.0 2195.8,615.2 2196.6,616.2 2197.4,616.9 2198.2,617.6 2199.0,618.2 2199.8,618.7 2200.6,619.2 2201.4,619.6 2202.2,619.9 2203.0,620.1 2203.8,620.2 2204.6,620.4 2205.4,620.5 2206.2,620.6 2207.0,620.7 2207.8,620.8 2208.6,620.9 2209.4,620.9 2210.2,620.9 2211.0,620.9 2211.8,620.9 2212.6,620.9 2213.4,620.9 2214.2,620.8 2215.0,620.8 2215.8,620.8 2216.6,620.7 2217.4,620.7 2218.2,620.7 2219.0,620.8 2219.8,620.8 2220.6,620.9 2221.4,621.1 2222.2,621.2 2223.0,621.4 2223.8,621.5 2224.6,621.6 2225.4,621.7 2226.2,621.8 2227.0,621.8 2227.8,621.7 2228.6,621.4 2229.4,621.1 2230.2,620.6 2231.0,620.1 2231.8,619.5 2232.6,619.0 2233.4,618.2 2234.2,617.3 2235.0,616.3 2235.8,615.3 2236.6,614.2 2237.4,613.1 2238.2,612.0 2239.0,610.8 2239.8,609.8 2240.6,608.9 2241.4,608.1 2242.2,607.3 2243.0,606.8 2243.8,606.6 2244.6,606.6 2245.4,606.7 2246.2,606.9 2247.0,607.0 2247.8,607.6 2248.6,608.4 2249.4,609.4 2250.2,610.3 2251.0,611.2 2251.8,612.0 2252.6,612.9 2253.4,613.6 2254.2,614.0 2255.0,614.4 2255.8,614.7 2256.6,615.0 2257.4,615.2 2258.2,615.3 2259.0,615.2 2259.8,615.1 2260.6,614.8 2261.4,614.4 2262.2,614.0 2263.0,613.5 2263.8,613.1 2264.6,612.7 2265.4,612.3 2266.2,611.8 2267.0,611.3 2267.8,610.7 2268.6,610.2 2269.4,609.8 2270.2,609.3 2271.0,608.7 2271.8,608.0 2272.6,607.0 2273.4,605.8 2274.2,605.0" fill="none" stroke="#ff8000" stroke-width="6.3" stroke-linejoin="round" stroke-linecap="butt"/>
<clipPath id="cb"><rect x="364.6" y="839.2" width="1914.1" height="632.4"/></clipPath>
<path d="M368.6,1285.2 369.2,1286.0 369.9,1284.4 370.5,1282.8 371.2,1283.8 371.8,1282.4 372.4,1285.1 373.1,1288.5 373.7,1283.9 374.4,1283.7 375.0,1286.6 375.6,1286.4 376.3,1285.7 376.9,1282.8 377.6,1284.9 378.2,1286.5 378.8,1280.9 379.5,1283.0 380.1,1279.0 380.8,1280.6 381.4,1279.2 382.0,1283.6 382.7,1281.2 383.3,1285.7 384.0,1286.1 384.6,1285.8 385.2,1280.4 385.9,1286.2 386.5,1288.0 387.2,1288.9 387.8,1284.9 388.4,1287.9 389.1,1286.8 389.7,1287.4 390.4,1292.3 391.0,1287.5 391.6,1289.5 392.3,1291.8 392.9,1288.0 393.6,1289.1 394.2,1289.7 394.8,1289.7 395.5,1286.4 396.1,1290.0 396.8,1293.6 397.4,1286.3 398.0,1292.8 398.7,1291.2 399.3,1289.5 400.0,1296.6 400.6,1293.7 401.2,1288.7 401.9,1292.2 402.5,1293.6 403.2,1291.7 403.8,1294.0 404.4,1292.2 405.1,1294.2 405.7,1296.4 406.4,1291.1 407.0,1293.8 407.6,1292.5 408.3,1294.4 408.9,1291.5 409.6,1293.4 410.2,1294.7 410.8,1297.7 411.5,1298.3 412.1,1291.8 412.8,1292.9 413.4,1296.3 414.0,1289.0 414.7,1292.4 415.3,1292.7 416.0,1295.5 416.6,1293.4 417.2,1290.2 417.9,1289.6 418.5,1289.6 419.2,1294.1 419.8,1289.1 420.4,1289.6 421.1,1291.6 421.7,1290.7 422.4,1290.7 423.0,1288.5 423.6,1291.3 424.3,1289.9 424.9,1293.7 425.6,1292.0 426.2,1289.8 426.8,1291.3 427.5,1288.4 428.1,1291.9 428.8,1289.1 429.4,1290.7 430.0,1285.8 430.7,1290.2 431.3,1285.0 432.0,1284.2 432.6,1288.9 433.2,1287.6 433.9,1290.7 434.5,1296.5 435.2,1288.9 435.8,1289.8 436.4,1292.2 437.1,1293.1 437.7,1291.4 438.4,1291.2 439.0,1293.3 439.6,1292.5 440.3,1287.9 440.9,1289.8 441.6,1289.5 442.2,1286.0 442.8,1288.7 443.5,1285.0 444.1,1289.1 444.8,1286.3 445.4,1285.3 446.0,1282.9 446.7,1283.5 447.3,1278.1 448.0,1279.9 448.6,1283.6 449.2,1277.1 449.9,1285.0 450.5,1278.4 451.2,1285.2 451.8,1281.3 452.4,1285.7 453.1,1284.3 453.7,1280.1 454.4,1287.4 455.0,1287.8 455.6,1283.8 456.3,1283.2 456.9,1283.4 457.6,1281.3 458.2,1286.8 458.8,1282.7 459.5,1284.3 460.1,1282.7 460.8,1283.4 461.4,1281.9 462.0,1288.7 462.7,1285.0 463.3,1287.6 464.0,1284.7 464.6,1282.1 465.2,1282.3 465.9,1280.8 466.5,1281.3 467.2,1279.4 467.8,1278.8 468.4,1274.7 469.1,1274.1 469.7,1277.9 470.4,1269.0 471.0,1265.1 471.6,1265.8 472.3,1265.3 472.9,1254.6 473.6,1254.6 474.2,1250.5 474.8,1244.8 475.5,1248.5 476.1,1244.1 476.8,1242.4 477.4,1239.3 478.0,1241.8 478.7,1238.8 479.3,1239.6 480.0,1237.8 480.6,1239.3 481.2,1248.2 481.9,1245.4 482.5,1249.2 483.2,1250.1 483.8,1250.8 484.4,1252.3 485.1,1256.9 485.7,1256.2 486.4,1258.4 487.0,1260.7 487.6,1265.2 488.3,1264.7 488.9,1264.0 489.6,1261.0 490.2,1257.9 490.8,1262.7 491.5,1261.4 492.1,1256.8 492.8,1256.4 493.4,1254.4 494.0,1251.4 494.7,1247.1 495.3,1237.7 496.0,1235.9 496.6,1220.5 497.2,1215.6 497.9,1203.2 498.5,1192.5 499.2,1182.6 499.8,1168.3 500.4,1146.7 501.1,1130.1 501.7,1124.4 502.4,1108.2 503.0,1104.4 503.6,1110.8 504.3,1115.2 504.9,1125.7 505.6,1145.9 506.2,1160.8 506.8,1175.8 507.5,1193.3 508.1,1207.4 508.8,1222.1 509.4,1241.3 510.0,1252.2 510.7,1262.3 511.3,1277.0 512.0,1280.2 512.6,1284.8 513.2,1283.6 513.9,1285.8 514.5,1285.8 515.2,1286.7 515.8,1290.1 516.4,1288.0 517.1,1291.4 517.7,1291.7 518.4,1296.5 519.0,1288.0 519.6,1294.2 520.3,1291.9 520.9,1292.3 521.6,1288.7 522.2,1291.4 522.8,1294.7 523.5,1292.8 524.1,1293.5 524.8,1292.8 525.4,1296.9 526.0,1294.3 526.7,1289.0 527.3,1293.4 528.0,1290.5 528.6,1287.6 529.2,1295.1 529.9,1300.3 530.5,1297.2 531.2,1294.2 531.8,1294.7 532.4,1300.0 533.1,1297.2 533.7,1296.6 534.4,1295.9 535.0,1295.9 535.6,1297.6 536.3,1296.9 536.9,1296.0 537.6,1292.9 538.2,1297.1 538.8,1294.2 539.5,1299.1 540.1,1293.1 540.8,1296.2 541.4,1296.5 542.0,1293.1 542.7,1301.0 543.3,1300.2 544.0,1295.1 544.6,1298.3 545.2,1297.2 545.9,1289.4 546.5,1296.8 547.2,1295.9 547.8,1296.1 548.4,1292.8 549.1,1294.6 549.7,1294.5 550.4,1297.7 551.0,1295.1 551.6,1294.0 552.3,1297.9 552.9,1292.4 553.6,1292.8 554.2,1289.0 554.8,1297.7 555.5,1295.9 556.1,1295.5 556.8,1294.4 557.4,1292.5 558.0,1292.2 558.7,1290.3 559.3,1289.9 560.0,1290.0 560.6,1293.3 561.2,1290.4 561.9,1288.5 562.5,1287.0 563.2,1286.6 563.8,1292.2 564.4,1289.1 565.1,1287.7 565.7,1286.3 566.4,1284.1 567.0,1286.5 567.6,1288.6 568.3,1285.0 568.9,1285.1 569.6,1284.8 570.2,1285.2 570.8,1280.4 571.5,1283.6 572.1,1281.6 572.8,1285.7 573.4,1281.1 574.0,1284.2 574.7,1286.2 575.3,1280.9 576.0,1279.5 576.6,1280.9 577.2,1279.7 577.9,1276.4 578.5,1279.4 579.2,1282.8 579.8,1276.3 580.4,1276.1 581.1,1273.6 581.7,1277.1 582.4,1273.1 583.0,1273.6 583.6,1280.0 584.3,1274.7 584.9,1280.1 585.6,1281.6 586.2,1278.5 586.8,1279.5 587.5,1283.1 588.1,1277.5 588.8,1276.3 589.4,1274.1 590.0,1277.4 590.7,1280.0 591.3,1277.0 592.0,1270.0 592.6,1268.1 593.2,1267.0 593.9,1267.3 594.5,1264.2 595.2,1263.4 595.8,1261.8 596.4,1258.5 597.1,1257.5 597.7,1256.7 598.4,1254.7 599.0,1255.1 599.6,1257.5 600.3,1252.8 600.9,1249.5 601.6,1242.6 602.2,1244.4 602.8,1233.8 603.5,1229.7 604.1,1229.5 604.8,1220.8 605.4,1208.6 606.0,1193.7 606.7,1185.4 607.3,1171.2 608.0,1161.4 608.6,1153.6 609.2,1136.2 609.9,1122.7 610.5,1113.9 611.2,1110.5 611.8,1105.8 612.4,1102.7 613.1,1109.6 613.7,1112.3 614.4,1126.6 615.0,1140.2 615.6,1155.3 616.3,1164.5 616.9,1180.0 617.6,1191.0 618.2,1202.5 618.8,1215.5 619.5,1225.3 620.1,1234.0 620.8,1245.2 621.4,1247.0 622.0,1251.5 622.7,1256.2 623.3,1250.9 624.0,1255.0 624.6,1259.1 625.2,1261.1 625.9,1260.4 626.5,1265.2 627.2,1263.9 627.8,1260.7 628.4,1261.8 629.1,1266.6 629.7,1266.1 630.4,1260.4 631.0,1269.1 631.6,1267.5 632.3,1269.7 632.9,1265.3 633.6,1265.6 634.2,1263.4 634.8,1272.7 635.5,1265.5 636.1,1269.7 636.8,1263.6 637.4,1265.4 638.0,1260.4 638.7,1263.5 639.3,1266.9 640.0,1261.0 640.6,1266.9 641.2,1265.0 641.9,1261.4 642.5,1262.8 643.2,1262.9 643.8,1263.9 644.4,1262.5 645.1,1261.5 645.7,1262.5 646.4,1260.2 647.0,1259.1 647.6,1261.8 648.3,1263.6 648.9,1256.7 649.6,1260.0 650.2,1257.5 650.8,1255.9 651.5,1259.5 652.1,1254.5 652.8,1258.0 653.4,1250.2 654.0,1251.5 654.7,1248.2 655.3,1245.5 656.0,1247.8 656.6,1244.6 657.2,1245.5 657.9,1242.8 658.5,1239.4 659.2,1241.5 659.8,1241.8 660.4,1244.2 661.1,1239.4 661.7,1241.8 662.4,1237.7 663.0,1244.1 663.6,1240.0 664.3,1238.5 664.9,1243.4 665.6,1246.8 666.2,1240.3 666.8,1241.7 667.5,1242.7 668.1,1241.7 668.8,1245.5 669.4,1242.1 670.0,1241.8 670.7,1244.7 671.3,1240.6 672.0,1243.2 672.6,1239.0 673.2,1238.0 673.9,1236.0 674.5,1245.4 675.2,1239.4 675.8,1240.5 676.4,1239.3 677.1,1239.2 677.7,1238.2 678.4,1242.2 679.0,1233.7 679.6,1231.5 680.3,1232.1 680.9,1230.5 681.6,1235.4 682.2,1235.2 682.8,1230.3 683.5,1229.0 684.1,1231.5 684.8,1235.9 685.4,1224.7 686.0,1233.1 686.7,1228.7 687.3,1233.8 688.0,1227.9 688.6,1229.4 689.2,1225.7 689.9,1226.4 690.5,1231.7 691.2,1229.2 691.8,1224.6 692.4,1221.6 693.1,1216.9 693.7,1218.6 694.4,1217.2 695.0,1214.8 695.6,1212.6 696.3,1207.9 696.9,1208.6 697.6,1206.6 698.2,1207.9 698.8,1207.2 699.5,1199.8 700.1,1195.9 700.8,1195.6 701.4,1192.0 702.0,1189.4 702.7,1188.9 703.3,1184.1 704.0,1186.1 704.6,1182.1 705.2,1181.0 705.9,1178.2 706.5,1175.3 707.2,1173.3 707.8,1173.3 708.4,1170.0 709.1,1167.8 709.7,1160.8 710.4,1149.3 711.0,1143.2 711.6,1125.8 712.3,1112.4 712.9,1097.3 713.6,1075.5 714.2,1063.9 714.8,1047.7 715.5,1030.1 716.1,1010.1 716.8,989.4 717.4,948.2 718.0,850.3 718.7,830.8 719.3,825.4 720.0,818.3 720.6,821.1 721.2,822.0 721.9,825.1 722.5,831.5 723.2,852.8 723.8,946.7 724.4,991.8 725.1,1012.1 725.7,1029.9 726.4,1046.5 727.0,1067.6 727.6,1110.4 728.3,1150.7 728.9,1168.1 729.6,1175.0 730.2,1175.8 730.8,1184.9 731.5,1189.7 732.1,1192.2 732.8,1192.6 733.4,1190.1 734.0,1198.4 734.7,1197.2 735.3,1192.4 736.0,1201.2 736.6,1197.4 737.2,1198.9 737.9,1201.4 738.5,1207.1 739.2,1203.6 739.8,1205.9 740.4,1210.4 741.1,1210.8 741.7,1207.3 742.4,1207.9 743.0,1206.2 743.6,1208.5 744.3,1212.1 744.9,1212.6 745.6,1212.2 746.2,1214.7 746.8,1210.3 747.5,1212.2 748.1,1214.2 748.8,1213.7 749.4,1214.7 750.0,1212.6 750.7,1210.3 751.3,1211.6 752.0,1207.5 752.6,1205.2 753.2,1210.4 753.9,1208.1 754.5,1208.4 755.2,1202.6 755.8,1205.5 756.4,1204.3 757.1,1203.2 757.7,1199.2 758.4,1203.8 759.0,1206.7 759.6,1205.1 760.3,1202.2 760.9,1203.3 761.6,1205.0 762.2,1195.5 762.8,1202.0 763.5,1203.5 764.1,1203.7 764.8,1206.2 765.4,1204.8 766.0,1202.7 766.7,1202.7 767.3,1204.0 768.0,1200.5 768.6,1201.6 769.2,1203.7 769.9,1206.0 770.5,1200.0 771.2,1199.7 771.8,1199.7 772.4,1202.1 773.1,1198.0 773.7,1201.4 774.4,1194.6 775.0,1196.3 775.6,1195.9 776.3,1198.1 776.9,1198.4 777.6,1191.3 778.2,1192.4 778.8,1195.0 779.5,1191.8 780.1,1188.7 780.8,1194.4 781.4,1192.0 782.0,1190.9 782.7,1187.3 783.3,1190.1 784.0,1185.8 784.6,1188.2 785.2,1182.0 785.9,1181.2 786.5,1182.9 787.2,1179.4 787.8,1181.7 788.4,1179.1 789.1,1174.2 789.7,1174.5 790.4,1170.3 791.0,1169.8 791.6,1161.4 792.3,1157.3 792.9,1156.6 793.6,1153.7 794.2,1146.9 794.8,1134.9 795.5,1126.1 796.1,1119.5 796.8,1107.0 797.4,1098.8 798.0,1095.8 798.7,1092.1 799.3,1086.3 800.0,1085.1 800.6,1090.2 801.2,1102.2 801.9,1105.4 802.5,1116.5 803.2,1128.2 803.8,1139.1 804.4,1146.7 805.1,1157.9 805.7,1159.6 806.4,1164.2 807.0,1165.0 807.6,1172.5 808.3,1171.0 808.9,1170.3 809.6,1172.3 810.2,1173.6 810.8,1176.9 811.5,1171.8 812.1,1174.0 812.8,1176.4 813.4,1184.5 814.0,1181.0 814.7,1178.8 815.3,1181.5 816.0,1185.6 816.6,1180.3 817.2,1180.6 817.9,1185.5 818.5,1184.3 819.2,1185.5 819.8,1183.0 820.4,1189.8 821.1,1189.5 821.7,1186.7 822.4,1187.1 823.0,1180.1 823.6,1187.0 824.3,1184.8 824.9,1186.4 825.6,1186.9 826.2,1184.1 826.8,1180.2 827.5,1185.1 828.1,1181.7 828.8,1182.1 829.4,1180.6 830.0,1180.6 830.7,1174.9 831.3,1183.6 832.0,1180.7 832.6,1182.6 833.2,1184.7 833.9,1179.6 834.5,1174.8 835.2,1177.3 835.8,1176.6 836.4,1178.5 837.1,1180.2 837.7,1174.9 838.4,1181.1 839.0,1176.4 839.6,1181.3 840.3,1180.3 840.9,1179.9 841.6,1180.6 842.2,1179.0 842.8,1178.1 843.5,1174.2 844.1,1177.1 844.8,1180.5 845.4,1179.3 846.0,1176.1 846.7,1173.1 847.3,1168.0 848.0,1171.9 848.6,1166.3 849.2,1164.6 849.9,1162.4 850.5,1162.1 851.2,1159.8 851.8,1160.2 852.4,1157.7 853.1,1160.1 853.7,1167.9 854.4,1163.0 855.0,1163.9 855.6,1167.3 856.3,1169.0 856.9,1165.3 857.6,1168.9 858.2,1172.8 858.8,1172.0 859.5,1172.1 860.1,1175.9 860.8,1169.9 861.4,1171.6 862.0,1169.7 862.7,1174.5 863.3,1165.0 864.0,1167.7 864.6,1167.3 865.2,1169.5 865.9,1168.5 866.5,1169.6 867.2,1160.4 867.8,1164.6 868.4,1159.8 869.1,1156.5 869.7,1157.4 870.4,1151.4 871.0,1146.5 871.6,1148.9 872.3,1144.1 872.9,1144.4 873.6,1145.2 874.2,1143.3 874.8,1145.0 875.5,1138.8 876.1,1133.8 876.8,1134.1 877.4,1131.8 878.0,1128.7 878.7,1130.2 879.3,1124.0 880.0,1116.6 880.6,1118.9 881.2,1111.6 881.9,1107.9 882.5,1097.9 883.2,1067.4 883.8,1045.9 884.4,1038.0 885.1,1022.3 885.7,1001.2 886.4,976.3 887.0,940.9 887.6,920.0 888.3,906.6 888.9,899.9 889.6,892.4 890.2,902.6 890.8,905.8 891.5,914.0 892.1,935.8 892.8,969.7 893.4,995.3 894.0,1015.2 894.7,1033.5 895.3,1045.0 896.0,1065.6 896.6,1101.9 897.2,1147.0 897.9,1160.8 898.5,1172.1 899.2,1166.7 899.8,1170.0 900.4,1170.6 901.1,1175.8 901.7,1171.4 902.4,1173.2 903.0,1174.3 903.6,1171.8 904.3,1171.7 904.9,1172.9 905.6,1168.6 906.2,1170.1 906.8,1172.6 907.5,1173.6 908.1,1172.1 908.8,1167.1 909.4,1169.4 910.0,1171.5 910.7,1169.5 911.3,1166.5 912.0,1162.9 912.6,1165.3 913.2,1160.4 913.9,1157.2 914.5,1156.7 915.2,1161.2 915.8,1156.6 916.4,1157.6 917.1,1151.6 917.7,1153.5 918.4,1147.6 919.0,1146.7 919.6,1151.3 920.3,1144.4 920.9,1138.8 921.6,1137.7 922.2,1136.9 922.8,1137.4 923.5,1131.4 924.1,1127.0 924.8,1130.0 925.4,1130.2 926.0,1130.0 926.7,1132.8 927.3,1129.9 928.0,1131.2 928.6,1126.5 929.2,1132.0 929.9,1135.7 930.5,1132.9 931.2,1132.4 931.8,1133.4 932.4,1139.0 933.1,1133.5 933.7,1137.3 934.4,1140.5 935.0,1143.3 935.6,1142.3 936.3,1146.4 936.9,1147.1 937.6,1150.3 938.2,1151.7 938.8,1151.3 939.5,1156.4 940.1,1161.0 940.8,1158.4 941.4,1162.6 942.0,1167.5 942.7,1165.8 943.3,1171.7 944.0,1170.9 944.6,1178.6 945.2,1183.0 945.9,1183.3 946.5,1178.4 947.2,1181.7 947.8,1180.7 948.4,1181.1 949.1,1185.2 949.7,1178.0 950.4,1184.4 951.0,1181.7 951.6,1185.6 952.3,1182.5 952.9,1180.4 953.6,1183.1 954.2,1184.6 954.8,1183.3 955.5,1185.2 956.1,1183.5 956.8,1180.4 957.4,1189.5 958.0,1190.0 958.7,1189.6 959.3,1190.3 960.0,1193.4 960.6,1189.9 961.2,1189.4 961.9,1190.7 962.5,1194.0 963.2,1186.9 963.8,1193.2 964.4,1188.0 965.1,1186.4 965.7,1192.2 966.4,1188.4 967.0,1185.0 967.6,1187.3 968.3,1190.5 968.9,1191.1 969.6,1186.9 970.2,1189.1 970.8,1190.0 971.5,1186.6 972.1,1189.4 972.8,1188.6 973.4,1187.6 974.0,1187.9 974.7,1189.7 975.3,1189.9 976.0,1188.6 976.6,1189.3 977.2,1193.5 977.9,1191.4 978.5,1193.2 979.2,1194.1 979.8,1192.4 980.4,1196.7 981.1,1188.5 981.7,1192.6 982.4,1189.6 983.0,1195.3 983.6,1195.1 984.3,1186.0 984.9,1189.0 985.6,1193.8 986.2,1194.8 986.8,1195.3 987.5,1193.8 988.1,1195.7 988.8,1196.6 989.4,1195.1 990.0,1198.2 990.7,1189.9 991.3,1197.6 992.0,1193.4 992.6,1198.9 993.2,1196.1 993.9,1194.8 994.5,1198.6 995.2,1195.7 995.8,1196.2 996.4,1194.9 997.1,1199.3 997.7,1200.9 998.4,1202.5 999.0,1199.6 999.6,1202.8 1000.3,1200.2 1000.9,1199.9 1001.6,1201.7 1002.2,1203.0 1002.8,1199.3 1003.5,1199.5 1004.1,1199.6 1004.8,1200.1 1005.4,1197.2 1006.0,1201.9 1006.7,1197.7 1007.3,1199.3 1008.0,1195.3 1008.6,1197.0 1009.2,1195.2 1009.9,1190.8 1010.5,1195.0 1011.2,1188.8 1011.8,1191.1 1012.4,1187.8 1013.1,1182.6 1013.7,1182.5 1014.4,1184.0 1015.0,1182.5 1015.6,1182.1 1016.3,1180.9 1016.9,1176.7 1017.6,1180.5 1018.2,1175.0 1018.8,1181.4 1019.5,1178.1 1020.1,1177.2 1020.8,1176.2 1021.4,1174.1 1022.0,1165.6 1022.7,1160.4 1023.3,1155.5 1024.0,1144.4 1024.6,1137.8 1025.2,1134.2 1025.9,1115.6 1026.5,1108.3 1027.2,1091.7 1027.8,1084.7 1028.4,1073.0 1029.1,1065.0 1029.7,1058.9 1030.4,1055.9 1031.0,1047.6 1031.6,1044.2 1032.3,1040.8 1032.9,1048.1 1033.6,1051.5 1034.2,1063.9 1034.8,1076.1 1035.5,1096.8 1036.1,1106.1 1036.8,1129.0 1037.4,1150.3 1038.0,1162.7 1038.7,1172.3 1039.3,1182.3 1040.0,1184.9 1040.6,1192.5 1041.2,1201.5 1041.9,1200.4 1042.5,1196.0 1043.2,1197.4 1043.8,1199.4 1044.4,1203.5 1045.1,1199.2 1045.7,1199.7 1046.4,1203.9 1047.0,1203.8 1047.6,1200.2 1048.3,1197.7 1048.9,1195.7 1049.6,1196.9 1050.2,1191.7 1050.8,1197.3 1051.5,1190.5 1052.1,1189.9 1052.8,1190.2 1053.4,1184.7 1054.0,1175.3 1054.7,1178.1 1055.3,1177.3 1056.0,1171.1 1056.6,1169.5 1057.2,1171.1 1057.9,1168.1 1058.5,1179.1 1059.2,1172.8 1059.8,1180.0 1060.4,1186.9 1061.1,1191.8 1061.7,1197.1 1062.4,1201.5 1063.0,1204.1 1063.6,1211.2 1064.3,1206.1 1064.9,1215.4 1065.6,1217.1 1066.2,1222.5 1066.8,1225.1 1067.5,1223.2 1068.1,1223.8 1068.8,1226.7 1069.4,1224.3 1070.0,1220.1 1070.7,1225.6 1071.3,1224.8 1072.0,1213.8 1072.6,1217.5 1073.2,1222.4 1073.9,1217.1 1074.5,1215.0 1075.2,1213.2 1075.8,1211.8 1076.4,1212.0 1077.1,1210.7 1077.7,1213.6 1078.4,1210.5 1079.0,1210.5 1079.6,1209.2 1080.3,1213.2 1080.9,1212.2 1081.6,1215.3 1082.2,1219.6 1082.8,1218.7 1083.5,1219.6 1084.1,1219.2 1084.8,1218.2 1085.4,1217.5 1086.0,1216.8 1086.7,1219.3 1087.3,1214.3 1088.0,1220.4 1088.6,1216.9 1089.2,1214.9 1089.9,1215.6 1090.5,1215.3 1091.2,1217.6 1091.8,1215.4 1092.4,1220.3 1093.1,1215.3 1093.7,1211.4 1094.4,1215.4 1095.0,1212.0 1095.6,1217.2 1096.3,1220.2 1096.9,1219.3 1097.6,1214.4 1098.2,1216.2 1098.8,1223.1 1099.5,1219.8 1100.1,1219.4 1100.8,1222.6 1101.4,1226.7 1102.0,1224.2 1102.7,1221.8 1103.3,1222.9 1104.0,1224.2 1104.6,1221.6 1105.2,1220.9 1105.9,1224.2 1106.5,1222.0 1107.2,1224.6 1107.8,1225.2 1108.4,1231.1 1109.1,1222.9 1109.7,1224.8 1110.4,1224.7 1111.0,1226.3 1111.6,1228.0 1112.3,1224.1 1112.9,1223.4 1113.6,1221.3 1114.2,1223.2 1114.8,1227.0 1115.5,1225.8 1116.1,1223.0 1116.8,1224.7 1117.4,1225.8 1118.0,1227.1 1118.7,1224.2 1119.3,1225.1 1120.0,1221.0 1120.6,1222.4 1121.2,1228.9 1121.9,1218.1 1122.5,1221.8 1123.2,1222.1 1123.8,1219.4 1124.4,1217.2 1125.1,1217.7 1125.7,1216.6 1126.4,1215.8 1127.0,1212.4 1127.6,1219.9 1128.3,1221.5 1128.9,1225.1 1129.6,1228.5 1130.2,1230.5 1130.8,1232.0 1131.5,1229.1 1132.1,1233.4 1132.8,1234.6 1133.4,1235.1 1134.0,1236.3 1134.7,1232.9 1135.3,1233.5 1136.0,1236.7 1136.6,1231.7 1137.2,1236.5 1137.9,1235.2 1138.5,1236.3 1139.2,1233.2 1139.8,1235.8 1140.4,1238.3 1141.1,1240.8 1141.7,1241.0 1142.4,1238.2 1143.0,1237.9 1143.6,1236.2 1144.3,1239.4 1144.9,1238.0 1145.6,1240.6 1146.2,1244.1 1146.8,1240.0 1147.5,1236.9 1148.1,1239.2 1148.8,1238.2 1149.4,1239.4 1150.0,1246.4 1150.7,1244.1 1151.3,1240.1 1152.0,1246.3 1152.6,1248.5 1153.2,1244.9 1153.9,1244.7 1154.5,1246.1 1155.2,1248.1 1155.8,1249.4 1156.4,1251.0 1157.1,1251.3 1157.7,1251.3 1158.4,1252.0 1159.0,1250.4 1159.6,1245.0 1160.3,1248.8 1160.9,1250.0 1161.6,1248.0 1162.2,1250.8 1162.8,1246.6 1163.5,1244.1 1164.1,1249.1 1164.8,1245.8 1165.4,1243.4 1166.0,1244.3 1166.7,1244.0 1167.3,1241.7 1168.0,1234.1 1168.6,1238.5 1169.2,1238.9 1169.9,1237.4 1170.5,1240.4 1171.2,1242.9 1171.8,1238.5 1172.4,1236.8 1173.1,1245.1 1173.7,1238.7 1174.4,1236.8 1175.0,1240.8 1175.6,1241.5 1176.3,1238.7 1176.9,1242.8 1177.6,1239.9 1178.2,1239.3 1178.8,1243.0 1179.5,1245.5 1180.1,1243.0 1180.8,1246.7 1181.4,1246.8 1182.0,1255.5 1182.7,1247.4 1183.3,1253.6 1184.0,1250.4 1184.6,1250.4 1185.2,1252.8 1185.9,1253.4 1186.5,1254.4 1187.2,1252.0 1187.8,1249.6 1188.4,1249.8 1189.1,1252.6 1189.7,1252.9 1190.4,1255.2 1191.0,1252.8 1191.6,1254.6 1192.3,1255.9 1192.9,1252.4 1193.6,1247.4 1194.2,1246.7 1194.8,1243.9 1195.5,1249.4 1196.1,1240.7 1196.8,1244.1 1197.4,1241.0 1198.0,1242.6 1198.7,1239.4 1199.3,1235.4 1200.0,1234.3 1200.6,1234.7 1201.2,1235.0 1201.9,1234.3 1202.5,1237.3 1203.2,1243.8 1203.8,1237.4 1204.4,1244.5 1205.1,1243.1 1205.7,1247.6 1206.4,1251.0 1207.0,1250.3 1207.6,1253.9 1208.3,1248.9 1208.9,1256.6 1209.6,1252.5 1210.2,1256.0 1210.8,1255.2 1211.5,1248.4 1212.1,1253.5 1212.8,1256.3 1213.4,1259.7 1214.0,1255.5 1214.7,1253.8 1215.3,1247.0 1216.0,1249.8 1216.6,1239.5 1217.2,1223.4 1217.9,1212.6 1218.5,1198.7 1219.2,1195.0 1219.8,1189.6 1220.4,1172.9 1221.1,1159.2 1221.7,1141.5 1222.4,1122.2 1223.0,1112.6 1223.6,1088.0 1224.3,1068.7 1224.9,1043.8 1225.6,1011.1 1226.2,968.5 1226.8,938.9 1227.5,926.3 1228.1,923.5 1228.8,934.5 1229.4,952.4 1230.0,993.2 1230.7,1031.2 1231.3,1067.1 1232.0,1093.0 1232.6,1116.2 1233.2,1144.2 1233.9,1171.8 1234.5,1192.0 1235.2,1216.0 1235.8,1223.9 1236.4,1239.9 1237.1,1254.1 1237.7,1257.3 1238.4,1262.0 1239.0,1271.0 1239.6,1267.9 1240.3,1266.8 1240.9,1266.9 1241.6,1271.7 1242.2,1272.5 1242.8,1269.1 1243.5,1271.3 1244.1,1276.4 1244.8,1277.8 1245.4,1275.8 1246.0,1280.3 1246.7,1281.4 1247.3,1276.4 1248.0,1281.4 1248.6,1284.6 1249.2,1283.5 1249.9,1280.8 1250.5,1287.0 1251.2,1290.9 1251.8,1294.0 1252.4,1285.0 1253.1,1298.0 1253.7,1288.7 1254.4,1294.3 1255.0,1295.2 1255.6,1294.7 1256.3,1292.5 1256.9,1289.1 1257.6,1293.6 1258.2,1290.0 1258.8,1285.1 1259.5,1298.8 1260.1,1293.1 1260.8,1295.9 1261.4,1288.5 1262.0,1294.4 1262.7,1294.4 1263.3,1293.9 1264.0,1289.3 1264.6,1285.7 1265.2,1287.8 1265.9,1282.0 1266.5,1282.7 1267.2,1286.9 1267.8,1283.6 1268.4,1285.3 1269.1,1284.7 1269.7,1289.0 1270.4,1285.8 1271.0,1280.1 1271.6,1271.9 1272.3,1253.1 1272.9,1248.4 1273.6,1245.3 1274.2,1227.5 1274.8,1212.2 1275.5,1191.1 1276.1,1175.6 1276.8,1164.5 1277.4,1145.6 1278.0,1136.0 1278.7,1121.4 1279.3,1106.6 1280.0,1079.8 1280.6,1037.2 1281.2,1013.3 1281.9,1001.1 1282.5,999.9 1283.2,1013.9 1283.8,1039.5 1284.4,1074.1 1285.1,1097.6 1285.7,1109.2 1286.4,1117.6 1287.0,1124.1 1287.6,1137.0 1288.3,1147.6 1288.9,1165.9 1289.6,1179.8 1290.2,1198.1 1290.8,1209.5 1291.5,1226.3 1292.1,1244.6 1292.8,1255.6 1293.4,1265.2 1294.0,1271.1 1294.7,1280.1 1295.3,1285.8 1296.0,1285.4 1296.6,1283.7 1297.2,1289.6 1297.9,1282.6 1298.5,1290.9 1299.2,1285.5 1299.8,1280.1 1300.4,1294.4 1301.1,1291.7 1301.7,1285.1 1302.4,1288.6 1303.0,1288.0 1303.6,1289.3 1304.3,1285.7 1304.9,1288.4 1305.6,1291.9 1306.2,1291.8 1306.8,1294.8 1307.5,1292.2 1308.1,1298.5 1308.8,1291.1 1309.4,1294.7 1310.0,1290.4 1310.7,1293.8 1311.3,1302.3 1312.0,1298.2 1312.6,1303.8 1313.2,1303.8 1313.9,1302.5 1314.5,1305.5 1315.2,1306.4 1315.8,1307.8 1316.4,1312.4 1317.1,1313.4 1317.7,1311.4 1318.4,1311.4 1319.0,1315.2 1319.6,1314.7 1320.3,1317.9 1320.9,1322.3 1321.6,1317.8 1322.2,1315.8 1322.8,1315.7 1323.5,1314.1 1324.1,1312.6 1324.8,1312.3 1325.4,1314.3 1326.0,1314.7 1326.7,1318.1 1327.3,1315.5 1328.0,1316.1 1328.6,1313.5 1329.2,1320.7 1329.9,1317.2 1330.5,1320.0 1331.2,1316.7 1331.8,1318.0 1332.4,1313.2 1333.1,1315.7 1333.7,1321.2 1334.4,1311.7 1335.0,1318.9 1335.6,1321.2 1336.3,1318.9 1336.9,1320.6 1337.6,1322.7 1338.2,1318.1 1338.8,1321.2 1339.5,1318.2 1340.1,1319.0 1340.8,1319.5 1341.4,1321.0 1342.0,1322.0 1342.7,1322.8 1343.3,1317.7 1344.0,1326.5 1344.6,1324.1 1345.2,1322.6 1345.9,1319.5 1346.5,1320.1 1347.2,1321.6 1347.8,1321.0 1348.4,1315.3 1349.1,1321.3 1349.7,1326.5 1350.4,1313.0 1351.0,1319.6 1351.6,1317.1 1352.3,1315.0 1352.9,1318.4 1353.6,1311.2 1354.2,1314.5 1354.8,1317.8 1355.5,1313.3 1356.1,1312.8 1356.8,1314.4 1357.4,1313.2 1358.0,1319.1 1358.7,1313.6 1359.3,1319.8 1360.0,1315.5 1360.6,1322.0 1361.2,1321.0 1361.9,1315.2 1362.5,1322.8 1363.2,1320.6 1363.8,1323.0 1364.4,1329.1 1365.1,1322.8 1365.7,1323.8 1366.4,1331.4 1367.0,1328.6 1367.6,1333.2 1368.3,1330.7 1368.9,1328.1 1369.6,1331.0 1370.2,1335.1 1370.8,1335.0 1371.5,1333.2 1372.1,1334.2 1372.8,1334.8 1373.4,1334.5 1374.0,1342.0 1374.7,1337.5 1375.3,1335.0 1376.0,1337.4 1376.6,1341.2 1377.2,1341.6 1377.9,1339.9 1378.5,1338.7 1379.2,1340.4 1379.8,1335.6 1380.4,1336.2 1381.1,1341.3 1381.7,1337.4 1382.4,1339.3 1383.0,1341.1 1383.6,1339.0 1384.3,1336.6 1384.9,1341.5 1385.6,1336.8 1386.2,1333.3 1386.8,1335.5 1387.5,1334.1 1388.1,1330.3 1388.8,1332.5 1389.4,1331.6 1390.0,1326.8 1390.7,1331.6 1391.3,1331.4 1392.0,1331.1 1392.6,1328.1 1393.2,1331.8 1393.9,1332.9 1394.5,1333.6 1395.2,1330.6 1395.8,1335.5 1396.4,1330.9 1397.1,1333.7 1397.7,1338.0 1398.4,1332.7 1399.0,1333.3 1399.6,1337.5 1400.3,1333.5 1400.9,1333.7 1401.6,1335.0 1402.2,1337.1 1402.8,1328.3 1403.5,1331.8 1404.1,1331.1 1404.8,1330.4 1405.4,1330.2 1406.0,1329.3 1406.7,1331.1 1407.3,1326.6 1408.0,1327.8 1408.6,1327.1 1409.2,1322.5 1409.9,1323.0 1410.5,1324.6 1411.2,1317.9 1411.8,1307.7 1412.4,1293.1 1413.1,1272.5 1413.7,1256.4 1414.4,1237.0 1415.0,1215.0 1415.6,1202.6 1416.3,1193.5 1416.9,1175.8 1417.6,1161.1 1418.2,1137.8 1418.8,1120.2 1419.5,1108.8 1420.1,1106.3 1420.8,1090.6 1421.4,1079.1 1422.0,1076.6 1422.7,1089.6 1423.3,1101.1 1424.0,1108.7 1424.6,1122.7 1425.2,1130.6 1425.9,1150.5 1426.5,1165.0 1427.2,1181.0 1427.8,1188.0 1428.4,1203.4 1429.1,1217.6 1429.7,1237.7 1430.4,1263.0 1431.0,1295.3 1431.6,1312.6 1432.3,1323.7 1432.9,1331.9 1433.6,1337.6 1434.2,1342.5 1434.8,1339.4 1435.5,1341.3 1436.1,1345.3 1436.8,1345.6 1437.4,1344.8 1438.0,1344.8 1438.7,1344.6 1439.3,1347.1 1440.0,1350.7 1440.6,1345.3 1441.2,1352.4 1441.9,1351.1 1442.5,1348.2 1443.2,1352.0 1443.8,1346.8 1444.4,1347.3 1445.1,1350.1 1445.7,1353.9 1446.4,1355.3 1447.0,1355.3 1447.6,1356.3 1448.3,1349.2 1448.9,1354.4 1449.6,1347.9 1450.2,1348.7 1450.8,1348.2 1451.5,1345.1 1452.1,1343.4 1452.8,1343.1 1453.4,1344.3 1454.0,1344.3 1454.7,1342.7 1455.3,1336.8 1456.0,1335.2 1456.6,1332.2 1457.2,1332.2 1457.9,1321.7 1458.5,1326.5 1459.2,1318.5 1459.8,1314.5 1460.4,1314.9 1461.1,1315.2 1461.7,1312.2 1462.4,1313.4 1463.0,1311.3 1463.6,1315.4 1464.3,1317.5 1464.9,1316.7 1465.6,1325.7 1466.2,1328.0 1466.8,1332.8 1467.5,1335.3 1468.1,1341.2 1468.8,1347.0 1469.4,1344.2 1470.0,1351.6 1470.7,1352.6 1471.3,1353.7 1472.0,1348.1 1472.6,1354.3 1473.2,1356.8 1473.9,1353.7 1474.5,1356.4 1475.2,1350.4 1475.8,1358.7 1476.4,1355.6 1477.1,1360.0 1477.7,1353.4 1478.4,1360.4 1479.0,1358.5 1479.6,1361.8 1480.3,1358.0 1480.9,1359.5 1481.6,1367.6 1482.2,1360.4 1482.8,1361.5 1483.5,1363.4 1484.1,1362.2 1484.8,1368.7 1485.4,1370.7 1486.0,1364.9 1486.7,1362.6 1487.3,1370.5 1488.0,1370.6 1488.6,1370.1 1489.2,1371.2 1489.9,1366.2 1490.5,1368.2 1491.2,1365.1 1491.8,1365.1 1492.4,1371.3 1493.1,1366.8 1493.7,1374.3 1494.4,1368.2 1495.0,1365.9 1495.6,1369.1 1496.3,1371.0 1496.9,1366.8 1497.6,1361.4 1498.2,1364.6 1498.8,1366.3 1499.5,1360.7 1500.1,1359.3 1500.8,1363.4 1501.4,1360.6 1502.0,1356.8 1502.7,1358.2 1503.3,1356.9 1504.0,1359.5 1504.6,1359.1 1505.2,1362.0 1505.9,1361.3 1506.5,1355.9 1507.2,1361.7 1507.8,1363.8 1508.4,1364.1 1509.1,1367.2 1509.7,1364.8 1510.4,1365.2 1511.0,1371.2 1511.6,1366.8 1512.3,1364.5 1512.9,1373.3 1513.6,1369.3 1514.2,1370.8 1514.8,1368.4 1515.5,1369.0 1516.1,1369.9 1516.8,1372.4 1517.4,1374.7 1518.0,1368.2 1518.7,1376.5 1519.3,1371.9 1520.0,1372.4 1520.6,1377.1 1521.2,1375.2 1521.9,1371.3 1522.5,1379.9 1523.2,1372.6 1523.8,1375.3 1524.4,1374.9 1525.1,1377.9 1525.7,1372.8 1526.4,1376.5 1527.0,1371.8 1527.6,1376.6 1528.3,1371.7 1528.9,1372.8 1529.6,1378.7 1530.2,1374.7 1530.8,1374.2 1531.5,1379.7 1532.1,1374.8 1532.8,1371.6 1533.4,1375.5 1534.0,1370.4 1534.7,1376.4 1535.3,1376.7 1536.0,1372.2 1536.6,1372.3 1537.2,1374.7 1537.9,1374.6 1538.5,1372.4 1539.2,1376.7 1539.8,1370.1 1540.4,1374.4 1541.1,1374.6 1541.7,1375.0 1542.4,1376.6 1543.0,1372.7 1543.6,1377.6 1544.3,1375.7 1544.9,1374.8 1545.6,1373.4 1546.2,1374.6 1546.8,1379.5 1547.5,1377.2 1548.1,1381.1 1548.8,1384.9 1549.4,1386.2 1550.0,1388.7 1550.7,1384.9 1551.3,1383.5 1552.0,1389.3 1552.6,1387.7 1553.2,1389.7 1553.9,1386.4 1554.5,1388.9 1555.2,1387.2 1555.8,1385.9 1556.4,1384.4 1557.1,1383.4 1557.7,1382.4 1558.4,1382.0 1559.0,1383.9 1559.6,1380.2 1560.3,1386.4 1560.9,1382.0 1561.6,1385.1 1562.2,1382.5 1562.8,1382.2 1563.5,1387.9 1564.1,1381.6 1564.8,1378.7 1565.4,1379.7 1566.0,1380.3 1566.7,1386.2 1567.3,1380.7 1568.0,1381.8 1568.6,1375.8 1569.2,1378.0 1569.9,1377.5 1570.5,1379.1 1571.2,1371.2 1571.8,1373.1 1572.4,1370.7 1573.1,1365.6 1573.7,1366.9 1574.4,1365.2 1575.0,1358.9 1575.6,1365.6 1576.3,1364.7 1576.9,1361.6 1577.6,1359.0 1578.2,1366.4 1578.8,1363.5 1579.5,1365.8 1580.1,1367.3 1580.8,1362.7 1581.4,1366.8 1582.0,1365.1 1582.7,1366.9 1583.3,1368.5 1584.0,1370.5 1584.6,1375.2 1585.2,1374.6 1585.9,1376.1 1586.5,1378.0 1587.2,1381.4 1587.8,1379.4 1588.4,1380.7 1589.1,1380.2 1589.7,1375.6 1590.4,1373.2 1591.0,1369.1 1591.6,1374.2 1592.3,1370.9 1592.9,1367.5 1593.6,1365.5 1594.2,1371.3 1594.8,1366.5 1595.5,1365.5 1596.1,1366.5 1596.8,1366.4 1597.4,1369.5 1598.0,1366.4 1598.7,1372.8 1599.3,1366.1 1600.0,1371.2 1600.6,1368.2 1601.2,1377.4 1601.9,1373.9 1602.5,1376.7 1603.2,1381.2 1603.8,1383.6 1604.4,1378.5 1605.1,1381.2 1605.7,1379.1 1606.4,1383.6 1607.0,1383.4 1607.6,1383.1 1608.3,1382.5 1608.9,1383.6 1609.6,1382.8 1610.2,1386.4 1610.8,1389.2 1611.5,1380.5 1612.1,1385.5 1612.8,1385.1 1613.4,1388.0 1614.0,1384.7 1614.7,1387.4 1615.3,1385.7 1616.0,1390.9 1616.6,1389.9 1617.2,1389.8 1617.9,1391.6 1618.5,1390.3 1619.2,1387.2 1619.8,1393.0 1620.4,1392.4 1621.1,1391.4 1621.7,1394.6 1622.4,1395.3 1623.0,1389.5 1623.6,1390.4 1624.3,1396.5 1624.9,1396.1 1625.6,1390.4 1626.2,1389.0 1626.8,1390.2 1627.5,1390.4 1628.1,1387.4 1628.8,1391.4 1629.4,1387.8 1630.0,1387.8 1630.7,1393.2 1631.3,1388.9 1632.0,1390.4 1632.6,1392.2 1633.2,1392.7 1633.9,1389.8 1634.5,1390.9 1635.2,1388.7 1635.8,1395.4 1636.4,1392.6 1637.1,1388.0 1637.7,1390.9 1638.4,1392.7 1639.0,1392.0 1639.6,1395.6 1640.3,1394.4 1640.9,1389.6 1641.6,1391.0 1642.2,1388.3 1642.8,1392.9 1643.5,1393.4 1644.1,1400.8 1644.8,1394.9 1645.4,1390.0 1646.0,1394.6 1646.7,1397.4 1647.3,1394.6 1648.0,1396.2 1648.6,1398.1 1649.2,1400.3 1649.9,1399.2 1650.5,1397.4 1651.2,1401.7 1651.8,1398.0 1652.4,1397.9 1653.1,1395.3 1653.7,1396.5 1654.4,1399.8 1655.0,1393.4 1655.6,1397.0 1656.3,1398.6 1656.9,1395.3 1657.6,1396.5 1658.2,1392.7 1658.8,1398.7 1659.5,1398.0 1660.1,1395.7 1660.8,1390.5 1661.4,1392.3 1662.0,1397.7 1662.7,1399.7 1663.3,1396.1 1664.0,1398.8 1664.6,1394.3 1665.2,1395.7 1665.9,1396.5 1666.5,1398.1 1667.2,1393.4 1667.8,1400.3 1668.4,1401.7 1669.1,1395.6 1669.7,1395.4 1670.4,1400.1 1671.0,1397.7 1671.6,1393.3 1672.3,1401.7 1672.9,1400.1 1673.6,1398.6 1674.2,1405.4 1674.8,1400.4 1675.5,1398.3 1676.1,1400.7 1676.8,1397.9 1677.4,1398.7 1678.0,1401.8 1678.7,1399.4 1679.3,1399.6 1680.0,1405.0 1680.6,1402.7 1681.2,1402.3 1681.9,1401.4 1682.5,1401.1 1683.2,1403.4 1683.8,1399.5 1684.4,1404.3 1685.1,1397.0 1685.7,1398.8 1686.4,1395.9 1687.0,1398.5 1687.6,1400.8 1688.3,1403.2 1688.9,1397.7 1689.6,1399.5 1690.2,1398.6 1690.8,1397.8 1691.5,1396.8 1692.1,1400.3 1692.8,1395.9 1693.4,1401.1 1694.0,1401.3 1694.7,1400.0 1695.3,1399.6 1696.0,1399.0 1696.6,1407.9 1697.2,1399.8 1697.9,1407.5 1698.5,1405.1 1699.2,1402.6 1699.8,1400.4 1700.4,1406.0 1701.1,1407.5 1701.7,1400.4 1702.4,1401.8 1703.0,1405.2 1703.6,1403.3 1704.3,1407.7 1704.9,1401.1 1705.6,1404.2 1706.2,1399.7 1706.8,1408.6 1707.5,1401.5 1708.1,1397.9 1708.8,1403.5 1709.4,1403.7 1710.0,1409.3 1710.7,1403.4 1711.3,1404.1 1712.0,1405.4 1712.6,1407.6 1713.2,1402.8 1713.9,1405.1 1714.5,1403.2 1715.2,1400.5 1715.8,1400.9 1716.4,1399.8 1717.1,1396.2 1717.7,1400.4 1718.4,1392.4 1719.0,1397.9 1719.6,1396.5 1720.3,1393.0 1720.9,1390.6 1721.6,1391.4 1722.2,1392.7 1722.8,1393.1 1723.5,1391.7 1724.1,1393.4 1724.8,1389.4 1725.4,1391.5 1726.0,1386.9 1726.7,1393.2 1727.3,1391.9 1728.0,1390.8 1728.6,1395.5 1729.2,1395.1 1729.9,1387.0 1730.5,1395.8 1731.2,1393.3 1731.8,1401.3 1732.4,1406.3 1733.1,1399.6 1733.7,1402.1 1734.4,1401.7 1735.0,1403.5 1735.6,1404.0 1736.3,1405.1 1736.9,1398.3 1737.6,1403.8 1738.2,1396.0 1738.8,1397.8 1739.5,1399.0 1740.1,1396.8 1740.8,1391.8 1741.4,1392.0 1742.0,1392.6 1742.7,1393.9 1743.3,1397.8 1744.0,1392.6 1744.6,1398.6 1745.2,1400.5 1745.9,1401.9 1746.5,1403.0 1747.2,1406.9 1747.8,1405.0 1748.4,1406.4 1749.1,1405.7 1749.7,1408.8 1750.4,1398.9 1751.0,1406.7 1751.6,1402.0 1752.3,1401.2 1752.9,1398.6 1753.6,1395.5 1754.2,1398.7 1754.8,1397.4 1755.5,1400.3 1756.1,1395.2 1756.8,1403.0 1757.4,1400.4 1758.0,1399.7 1758.7,1399.0 1759.3,1399.4 1760.0,1398.8 1760.6,1400.5 1761.2,1401.9 1761.9,1401.3 1762.5,1397.8 1763.2,1400.5 1763.8,1398.6 1764.4,1401.2 1765.1,1405.7 1765.7,1402.7 1766.4,1400.6 1767.0,1397.6 1767.6,1398.6 1768.3,1398.2 1768.9,1404.8 1769.6,1401.2 1770.2,1403.6 1770.8,1402.1 1771.5,1404.2 1772.1,1408.0 1772.8,1403.1 1773.4,1404.5 1774.0,1404.0 1774.7,1409.2 1775.3,1405.0 1776.0,1405.5 1776.6,1405.6 1777.2,1406.1 1777.9,1411.5 1778.5,1417.6 1779.2,1408.8 1779.8,1414.4 1780.4,1413.0 1781.1,1409.9 1781.7,1412.3 1782.4,1412.5 1783.0,1411.3 1783.6,1418.0 1784.3,1407.9 1784.9,1413.8 1785.6,1413.6 1786.2,1411.1 1786.8,1413.0 1787.5,1414.8 1788.1,1412.9 1788.8,1413.5 1789.4,1414.1 1790.0,1406.8 1790.7,1415.5 1791.3,1417.0 1792.0,1412.7 1792.6,1411.0 1793.2,1402.4 1793.9,1403.2 1794.5,1398.9 1795.2,1397.3 1795.8,1398.9 1796.4,1392.0 1797.1,1391.6 1797.7,1385.4 1798.4,1388.9 1799.0,1388.8 1799.6,1386.0 1800.3,1385.6 1800.9,1392.1 1801.6,1384.2 1802.2,1385.1 1802.8,1386.5 1803.5,1392.7 1804.1,1396.1 1804.8,1392.6 1805.4,1390.8 1806.0,1392.3 1806.7,1396.6 1807.3,1391.6 1808.0,1397.9 1808.6,1397.8 1809.2,1394.2 1809.9,1395.6 1810.5,1395.7 1811.2,1397.6 1811.8,1390.4 1812.4,1395.7 1813.1,1391.1 1813.7,1389.6 1814.4,1391.5 1815.0,1390.6 1815.6,1388.6 1816.3,1387.2 1816.9,1389.1 1817.6,1395.5 1818.2,1397.0 1818.8,1393.8 1819.5,1395.4 1820.1,1391.4 1820.8,1393.7 1821.4,1396.3 1822.0,1394.8 1822.7,1397.0 1823.3,1401.8 1824.0,1403.3 1824.6,1404.0 1825.2,1410.2 1825.9,1410.3 1826.5,1415.0 1827.2,1413.6 1827.8,1413.9 1828.4,1415.8 1829.1,1415.7 1829.7,1414.9 1830.4,1416.0 1831.0,1419.3 1831.6,1419.3 1832.3,1421.2 1832.9,1413.6 1833.6,1417.0 1834.2,1417.1 1834.8,1418.8 1835.5,1417.3 1836.1,1417.5 1836.8,1421.3 1837.4,1420.2 1838.0,1417.3 1838.7,1424.4 1839.3,1424.0 1840.0,1420.3 1840.6,1424.3 1841.2,1420.4 1841.9,1425.2 1842.5,1421.7 1843.2,1420.0 1843.8,1420.9 1844.4,1419.6 1845.1,1421.8 1845.7,1421.4 1846.4,1420.7 1847.0,1418.8 1847.6,1410.3 1848.3,1419.6 1848.9,1413.9 1849.6,1418.9 1850.2,1420.7 1850.8,1417.9 1851.5,1415.8 1852.1,1416.0 1852.8,1415.9 1853.4,1414.8 1854.0,1414.8 1854.7,1414.0 1855.3,1419.7 1856.0,1416.8 1856.6,1419.5 1857.2,1416.5 1857.9,1417.3 1858.5,1416.6 1859.2,1418.1 1859.8,1418.9 1860.4,1417.2 1861.1,1414.6 1861.7,1414.2 1862.4,1420.5 1863.0,1415.5 1863.6,1415.7 1864.3,1420.5 1864.9,1420.0 1865.6,1419.0 1866.2,1417.1 1866.8,1424.7 1867.5,1420.1 1868.1,1420.8 1868.8,1419.2 1869.4,1416.1 1870.0,1416.3 1870.7,1420.7 1871.3,1420.4 1872.0,1418.5 1872.6,1415.8 1873.2,1414.8 1873.9,1417.5 1874.5,1414.3 1875.2,1420.2 1875.8,1420.6 1876.4,1424.4 1877.1,1418.7 1877.7,1414.2 1878.4,1412.7 1879.0,1405.3 1879.6,1412.1 1880.3,1412.7 1880.9,1415.4 1881.6,1414.1 1882.2,1413.8 1882.8,1412.5 1883.5,1413.5 1884.1,1415.3 1884.8,1408.7 1885.4,1410.3 1886.0,1408.0 1886.7,1416.0 1887.3,1415.5 1888.0,1414.4 1888.6,1409.6 1889.2,1413.5 1889.9,1412.7 1890.5,1413.7 1891.2,1413.5 1891.8,1416.0 1892.4,1414.3 1893.1,1418.4 1893.7,1417.6 1894.4,1416.8 1895.0,1417.7 1895.6,1417.1 1896.3,1420.5 1896.9,1417.7 1897.6,1419.4 1898.2,1417.9 1898.8,1415.4 1899.5,1422.1 1900.1,1417.3 1900.8,1422.2 1901.4,1421.8 1902.0,1416.6 1902.7,1418.6 1903.3,1419.9 1904.0,1419.2 1904.6,1418.4 1905.2,1423.6 1905.9,1421.4 1906.5,1423.4 1907.2,1421.8 1907.8,1424.2 1908.4,1422.0 1909.1,1424.3 1909.7,1426.3 1910.4,1425.1 1911.0,1424.0 1911.6,1422.5 1912.3,1425.9 1912.9,1426.6 1913.6,1425.2 1914.2,1424.1 1914.8,1427.8 1915.5,1433.0 1916.1,1425.8 1916.8,1427.4 1917.4,1427.3 1918.0,1419.5 1918.7,1426.2 1919.3,1423.7 1920.0,1428.8 1920.6,1424.1 1921.2,1422.3 1921.9,1423.3 1922.5,1423.9 1923.2,1421.6 1923.8,1422.5 1924.4,1418.8 1925.1,1421.6 1925.7,1424.1 1926.4,1427.2 1927.0,1424.0 1927.6,1423.1 1928.3,1425.7 1928.9,1425.6 1929.6,1427.5 1930.2,1426.3 1930.8,1423.4 1931.5,1424.7 1932.1,1424.7 1932.8,1425.2 1933.4,1425.1 1934.0,1422.7 1934.7,1419.2 1935.3,1422.9 1936.0,1419.2 1936.6,1424.5 1937.2,1424.2 1937.9,1419.8 1938.5,1425.9 1939.2,1426.3 1939.8,1424.4 1940.4,1428.5 1941.1,1429.1 1941.7,1421.2 1942.4,1427.1 1943.0,1425.6 1943.6,1425.6 1944.3,1426.9 1944.9,1422.5 1945.6,1422.7 1946.2,1422.0 1946.8,1422.1 1947.5,1423.9 1948.1,1420.6 1948.8,1421.9 1949.4,1426.6 1950.0,1425.4 1950.7,1427.1 1951.3,1421.8 1952.0,1425.2 1952.6,1426.2 1953.2,1428.1 1953.9,1426.9 1954.5,1431.3 1955.2,1429.0 1955.8,1429.5 1956.4,1429.6 1957.1,1431.5 1957.7,1428.4 1958.4,1432.3 1959.0,1430.3 1959.6,1429.0 1960.3,1428.1 1960.9,1428.7 1961.6,1429.4 1962.2,1428.6 1962.8,1426.7 1963.5,1427.8 1964.1,1425.7 1964.8,1428.7 1965.4,1425.6 1966.0,1420.5 1966.7,1429.6 1967.3,1426.7 1968.0,1423.7 1968.6,1426.5 1969.2,1424.9 1969.9,1432.9 1970.5,1428.9 1971.2,1423.6 1971.8,1429.2 1972.4,1426.9 1973.1,1433.1 1973.7,1425.6 1974.4,1422.8 1975.0,1429.2 1975.6,1428.4 1976.3,1428.6 1976.9,1424.4 1977.6,1431.3 1978.2,1434.7 1978.8,1425.5 1979.5,1433.5 1980.1,1429.1 1980.8,1436.7 1981.4,1431.8 1982.0,1430.3 1982.7,1433.8 1983.3,1432.5 1984.0,1429.8 1984.6,1433.4 1985.2,1430.4 1985.9,1427.3 1986.5,1437.2 1987.2,1431.0 1987.8,1430.1 1988.4,1432.3 1989.1,1427.1 1989.7,1427.3 1990.4,1429.2 1991.0,1428.9 1991.6,1430.3 1992.3,1432.9 1992.9,1428.7 1993.6,1431.1 1994.2,1431.3 1994.8,1426.9 1995.5,1430.2 1996.1,1427.1 1996.8,1432.3 1997.4,1430.6 1998.0,1429.4 1998.7,1425.8 1999.3,1429.5 2000.0,1427.1 2000.6,1430.7 2001.2,1428.4 2001.9,1426.5 2002.5,1430.9 2003.2,1430.3 2003.8,1426.8 2004.4,1431.4 2005.1,1427.7 2005.7,1427.8 2006.4,1429.2 2007.0,1427.2 2007.6,1428.3 2008.3,1429.3 2008.9,1434.0 2009.6,1434.2 2010.2,1429.9 2010.8,1434.9 2011.5,1430.6 2012.1,1431.6 2012.8,1432.8 2013.4,1431.1 2014.0,1436.4 2014.7,1430.6 2015.3,1426.8 2016.0,1433.3 2016.6,1428.9 2017.2,1429.3 2017.9,1422.5 2018.5,1433.1 2019.2,1433.0 2019.8,1433.2 2020.4,1434.0 2021.1,1436.2 2021.7,1431.9 2022.4,1434.4 2023.0,1429.9 2023.6,1430.5 2024.3,1433.7 2024.9,1431.4 2025.6,1426.2 2026.2,1429.5 2026.8,1426.6 2027.5,1423.3 2028.1,1424.9 2028.8,1421.1 2029.4,1416.5 2030.0,1416.0 2030.7,1421.9 2031.3,1411.8 2032.0,1415.1 2032.6,1415.1 2033.2,1414.3 2033.9,1408.6 2034.5,1410.4 2035.2,1411.3 2035.8,1412.9 2036.4,1409.3 2037.1,1408.2 2037.7,1414.2 2038.4,1414.9 2039.0,1413.7 2039.6,1412.5 2040.3,1416.7 2040.9,1417.8 2041.6,1421.4 2042.2,1417.6 2042.8,1422.7 2043.5,1423.7 2044.1,1422.8 2044.8,1427.8 2045.4,1428.7 2046.0,1428.9 2046.7,1432.2 2047.3,1428.8 2048.0,1433.6 2048.6,1436.2 2049.2,1436.9 2049.9,1440.0 2050.5,1434.9 2051.2,1434.7 2051.8,1439.5 2052.4,1440.2 2053.1,1444.6 2053.7,1440.6 2054.4,1436.6 2055.0,1440.7 2055.6,1436.0 2056.3,1433.9 2056.9,1444.1 2057.6,1437.7 2058.2,1438.2 2058.8,1437.5 2059.5,1440.6 2060.1,1436.5 2060.8,1439.1 2061.4,1433.4 2062.0,1432.7 2062.7,1440.2 2063.3,1440.4 2064.0,1437.8 2064.6,1436.8 2065.2,1436.3 2065.9,1433.6 2066.5,1439.0 2067.2,1436.3 2067.8,1435.6 2068.4,1434.9 2069.1,1436.5 2069.7,1434.6 2070.4,1434.6 2071.0,1428.8 2071.6,1432.2 2072.3,1435.4 2072.9,1427.2 2073.6,1427.0 2074.2,1427.7 2074.8,1425.6 2075.5,1422.4 2076.1,1414.8 2076.8,1419.0 2077.4,1413.3 2078.0,1413.2 2078.7,1416.3 2079.3,1414.2 2080.0,1417.4 2080.6,1424.1 2081.2,1418.6 2081.9,1419.2 2082.5,1416.1 2083.2,1418.2 2083.8,1418.4 2084.4,1421.0 2085.1,1420.9 2085.7,1423.4 2086.4,1425.9 2087.0,1425.1 2087.6,1425.1 2088.3,1425.9 2088.9,1431.3 2089.6,1430.9 2090.2,1433.9 2090.8,1434.5 2091.5,1431.4 2092.1,1434.6 2092.8,1429.7 2093.4,1440.1 2094.0,1438.1 2094.7,1435.4 2095.3,1433.8 2096.0,1438.7 2096.6,1433.7 2097.2,1437.2 2097.9,1441.7 2098.5,1440.4 2099.2,1439.2 2099.8,1443.0 2100.4,1437.9 2101.1,1441.2 2101.7,1439.0 2102.4,1437.9 2103.0,1441.0 2103.6,1436.9 2104.3,1444.0 2104.9,1437.1 2105.6,1443.4 2106.2,1435.0 2106.8,1439.0 2107.5,1434.0 2108.1,1433.3 2108.8,1436.9 2109.4,1438.0 2110.0,1432.7 2110.7,1438.9 2111.3,1433.3 2112.0,1435.0 2112.6,1434.9 2113.2,1434.9 2113.9,1428.2 2114.5,1436.6 2115.2,1433.4 2115.8,1430.6 2116.4,1429.2 2117.1,1427.9 2117.7,1429.4 2118.4,1434.9 2119.0,1433.1 2119.6,1431.8 2120.3,1434.1 2120.9,1440.2 2121.6,1435.9 2122.2,1435.6 2122.8,1441.1 2123.5,1439.2 2124.1,1438.7 2124.8,1437.5 2125.4,1435.7 2126.0,1437.3 2126.7,1439.7 2127.3,1440.9 2128.0,1443.0 2128.6,1443.9 2129.2,1443.4 2129.9,1443.5 2130.5,1440.2 2131.2,1437.0 2131.8,1440.8 2132.4,1439.2 2133.1,1439.5 2133.7,1440.0 2134.4,1437.1 2135.0,1437.1 2135.6,1439.5 2136.3,1439.9 2136.9,1437.8 2137.6,1440.7 2138.2,1438.7 2138.8,1436.4 2139.5,1438.9 2140.1,1443.4 2140.8,1436.5 2141.4,1441.2 2142.0,1441.8 2142.7,1442.4 2143.3,1436.9 2144.0,1445.0 2144.6,1440.8 2145.2,1440.6 2145.9,1441.3 2146.5,1444.0 2147.2,1442.8 2147.8,1442.1 2148.4,1445.6 2149.1,1439.9 2149.7,1438.5 2150.4,1442.7 2151.0,1441.8 2151.6,1442.3 2152.3,1436.3 2152.9,1441.6 2153.6,1439.8 2154.2,1442.9 2154.8,1435.0 2155.5,1438.7 2156.1,1437.5 2156.8,1434.3 2157.4,1436.8 2158.0,1442.1 2158.7,1438.4 2159.3,1438.2 2160.0,1442.8 2160.6,1443.3 2161.2,1443.4 2161.9,1438.7 2162.5,1440.5 2163.2,1443.1 2163.8,1438.5 2164.4,1438.2 2165.1,1442.3 2165.7,1444.2 2166.4,1437.2 2167.0,1433.6 2167.6,1436.7 2168.3,1437.9 2168.9,1440.2 2169.6,1442.1 2170.2,1439.9 2170.8,1438.0 2171.5,1439.5 2172.1,1435.9 2172.8,1437.4 2173.4,1434.9 2174.0,1442.7 2174.7,1437.1 2175.3,1432.1 2176.0,1431.1 2176.6,1432.0 2177.2,1428.3 2177.9,1430.2 2178.5,1429.7 2179.2,1433.6 2179.8,1430.1 2180.4,1429.2 2181.1,1428.0 2181.7,1428.9 2182.4,1432.3 2183.0,1432.5 2183.6,1436.6 2184.3,1432.5 2184.9,1437.2 2185.6,1435.4 2186.2,1434.8 2186.8,1429.6 2187.5,1431.6 2188.1,1437.2 2188.8,1439.4 2189.4,1436.7 2190.0,1438.6 2190.7,1436.0 2191.3,1436.4 2192.0,1435.7 2192.6,1440.0 2193.2,1438.4 2193.9,1437.0 2194.5,1436.9 2195.2,1439.3 2195.8,1438.9 2196.4,1436.2 2197.1,1443.1 2197.7,1439.7 2198.4,1439.6 2199.0,1443.9 2199.6,1443.3 2200.3,1440.9 2200.9,1442.9 2201.6,1439.0 2202.2,1440.1 2202.8,1435.8 2203.5,1444.6 2204.1,1436.1 2204.8,1442.5 2205.4,1438.3 2206.0,1437.7 2206.7,1439.6 2207.3,1440.7 2208.0,1441.6 2208.6,1444.7 2209.2,1441.1 2209.9,1442.6 2210.5,1439.0 2211.2,1442.6 2211.8,1441.3 2212.4,1439.9 2213.1,1441.1 2213.7,1441.3 2214.4,1442.1 2215.0,1442.8 2215.6,1440.6 2216.3,1440.1 2216.9,1444.2 2217.6,1438.0 2218.2,1441.0 2218.8,1446.9 2219.5,1436.0 2220.1,1441.3 2220.8,1445.0 2221.4,1438.8 2222.0,1449.8 2222.7,1436.2 2223.3,1446.5 2224.0,1446.7 2224.6,1444.9 2225.2,1441.8 2225.9,1443.2 2226.5,1439.9 2227.2,1444.3 2227.8,1439.5 2228.4,1442.0 2229.1,1445.8 2229.7,1440.8 2230.4,1443.2 2231.0,1445.0 2231.6,1441.3 2232.3,1447.9 2232.9,1445.8 2233.6,1440.8 2234.2,1444.4 2234.8,1442.3 2235.5,1442.5 2236.1,1444.2 2236.8,1442.0 2237.4,1446.2 2238.0,1441.6 2238.7,1445.5 2239.3,1442.4 2240.0,1444.2 2240.6,1440.0 2241.2,1439.5 2241.9,1437.0 2242.5,1440.7 2243.2,1440.7 2243.8,1443.0 2244.4,1440.1 2245.1,1436.9 2245.7,1435.5 2246.4,1437.2 2247.0,1436.4 2247.6,1440.6 2248.3,1439.8 2248.9,1435.7 2249.6,1436.6 2250.2,1442.5 2250.8,1440.2 2251.5,1439.2 2252.1,1443.3 2252.8,1439.5 2253.4,1440.1 2254.0,1439.9 2254.7,1436.2 2255.3,1443.6 2256.0,1438.3 2256.6,1440.0 2257.2,1439.5 2257.9,1443.3 2258.5,1441.2 2259.2,1441.4 2259.8,1436.9 2260.4,1440.9 2261.1,1437.1 2261.7,1441.5 2262.4,1441.4 2263.0,1440.1 2263.6,1445.2 2264.3,1441.2 2264.9,1441.3 2265.6,1440.3 2266.2,1439.6 2266.8,1443.0 2267.5,1443.7 2268.1,1437.8 2268.8,1444.0 2269.4,1442.0 2270.0,1442.1 2270.7,1439.4 2271.3,1433.6 2272.0,1432.5 2272.6,1438.9 2273.2,1433.5 2273.9,1427.8 2274.5,1432.4" fill="none" stroke="#9900ff" stroke-width="6.7" stroke-linejoin="round" stroke-linecap="butt" clip-path="url(#cb)"/>
<g font-family="'Liberation Sans', Arial, sans-serif" fill="#000">
<g font-size="70" text-anchor="end">
<text x="341.5" y="677.1">0</text>
<text x="341.5" y="581.4">500</text>
<text x="341.5" y="485.6">1000</text>
<text x="341.5" y="389.9">1500</text>
<text x="341.5" y="294.1">2000</text>
<text x="341.5" y="198.3">2500</text>
<text x="341.5" y="102.6">3000</text>
<text x="341.5" y="1412.0">200</text>
<text x="341.5" y="1273.7">400</text>
<text x="341.5" y="1135.4">600</text>
<text x="341.5" y="997.1">800</text>
<text x="341.5" y="858.8">1000</text>
</g>
<g font-size="70" text-anchor="middle">
<text x="368.6" y="739.3">10</text>
<text x="368.6" y="1543.8">10</text>
<text x="686.3" y="739.3">15</text>
<text x="686.3" y="1543.8">15</text>
<text x="1004.0" y="739.3">20</text>
<text x="1004.0" y="1543.8">20</text>
<text x="1321.7" y="739.3">25</text>
<text x="1321.7" y="1543.8">25</text>
<text x="1639.3" y="739.3">30</text>
<text x="1639.3" y="1543.8">30</text>
<text x="1957.0" y="739.3">35</text>
<text x="1957.0" y="1543.8">35</text>
<text x="2274.7" y="739.3">40</text>
<text x="2274.7" y="1543.8">40</text>
</g>
<g font-size="66" text-anchor="middle" stroke="#000" stroke-width="2.0" stroke-linejoin="round">
<text transform="translate(503.7,371.6) scale(1,0.92)" y="33.75">*</text>
<text transform="translate(612.0,337.9) scale(1,0.92)" y="33.75">*</text>
<text transform="translate(723.2,177.9) scale(1,0.92)" y="33.75">*</text>
<text transform="translate(798.8,436.9) scale(1,0.92)" y="33.75">*</text>
<text transform="translate(889.0,85.7) scale(1,0.92)" y="33.75">*</text>
<text transform="translate(921.0,465.0) scale(1,0.92)" y="33.75">*</text>
<text transform="translate(1033.2,384.4) scale(1,0.92)" y="33.75">*</text>
<text transform="translate(1056.7,511.2) scale(1,0.92)" y="33.75">*</text>
<text transform="translate(1225.5,167.4) scale(1,0.92)" y="33.75">*</text>
<text transform="translate(1283.2,147.1) scale(1,0.92)" y="33.75">*</text>
<text transform="translate(1420.8,142.8) scale(1,0.92)" y="33.75">*</text>
<text transform="translate(1464.8,493.4) scale(1,0.92)" y="33.75">*</text>
<text transform="translate(1505.1,571.8) scale(1,0.92)" y="33.75">*</text>
<text transform="translate(1586.8,539.1) scale(1,0.92)" y="33.75">*</text>
<text transform="translate(1724.6,563.0) scale(1,0.92)" y="33.75">*</text>
<text transform="translate(1813.5,539.5) scale(1,0.92)" y="33.75">*</text>
<text transform="translate(2034.8,544.5) scale(1,0.92)" y="33.75">*</text>
<text transform="translate(2082.4,548.4) scale(1,0.92)" y="33.75">*</text>
<text transform="translate(2116.2,568.9) scale(1,0.92)" y="33.75">*</text>
<text transform="translate(2184.4,570.2) scale(1,0.92)" y="33.75">*</text>
<text transform="translate(502.0,1076.7) scale(1,0.92)" y="33.75">*</text>
<text transform="translate(612.6,1082.3) scale(1,0.92)" y="33.75">*</text>
<text transform="translate(721.0,818.5) scale(1,0.92)" y="33.75">*</text>
<text transform="translate(799.4,1048.9) scale(1,0.92)" y="33.75">*</text>
<text transform="translate(889.7,870.8) scale(1,0.92)" y="33.75">*</text>
<text transform="translate(929.7,1096.4) scale(1,0.92)" y="33.75">*</text>
<text transform="translate(1029.0,1016.9) scale(1,0.92)" y="33.75">*</text>
<text transform="translate(1057.1,1144.8) scale(1,0.92)" y="33.75">*</text>
<text transform="translate(1229.3,894.6) scale(1,0.92)" y="33.75">*</text>
<text transform="translate(1285.3,970.9) scale(1,0.92)" y="33.75">*</text>
<text transform="translate(1424.2,1044.3) scale(1,0.92)" y="33.75">*</text>
<text transform="translate(1460.9,1292.2) scale(1,0.92)" y="33.75">*</text>
<text transform="translate(1505.1,1328.2) scale(1,0.92)" y="33.75">*</text>
<text transform="translate(1587.2,1333.0) scale(1,0.92)" y="33.75">*</text>
<text transform="translate(1724.6,1364.1) scale(1,0.92)" y="33.75">*</text>
<text transform="translate(1808.7,1364.1) scale(1,0.92)" y="33.75">*</text>
<text transform="translate(2036.3,1384.4) scale(1,0.92)" y="33.75">*</text>
<text transform="translate(2080.9,1385.9) scale(1,0.92)" y="33.75">*</text>
<text transform="translate(2119.0,1401.1) scale(1,0.92)" y="33.75">*</text>
</g>
<g font-size="102.4">
<text x="1524.7" y="123.4">Paracetamol Polfa</text>
<text x="1498.4" y="919.5">Paracetamol Apteo</text>
<text transform="translate(120.5,765.5) rotate(-90)" text-anchor="middle" font-size="103.7">intensity (a.u.)</text>
<text x="1162.8" y="1648.6" font-size="103.5">2</text>
<text x="1316.5" y="1648.6" font-size="103.5">(deg)</text>
</g>
<text x="1221.5" y="1650.2" font-family="'Liberation Serif', 'Times New Roman', serif" font-size="97">Θ</text>
</g>
<rect x="1524.7" y="134.6" width="837.4" height="7.4" fill="#000"/>
<rect x="1498.4" y="931" width="871.2" height="7.6" fill="#000"/>
<rect x="866.7" y="48.2" width="6.8" height="6.8" rx="2" fill="#000"/>
</g>
</svg>
</body></html>
